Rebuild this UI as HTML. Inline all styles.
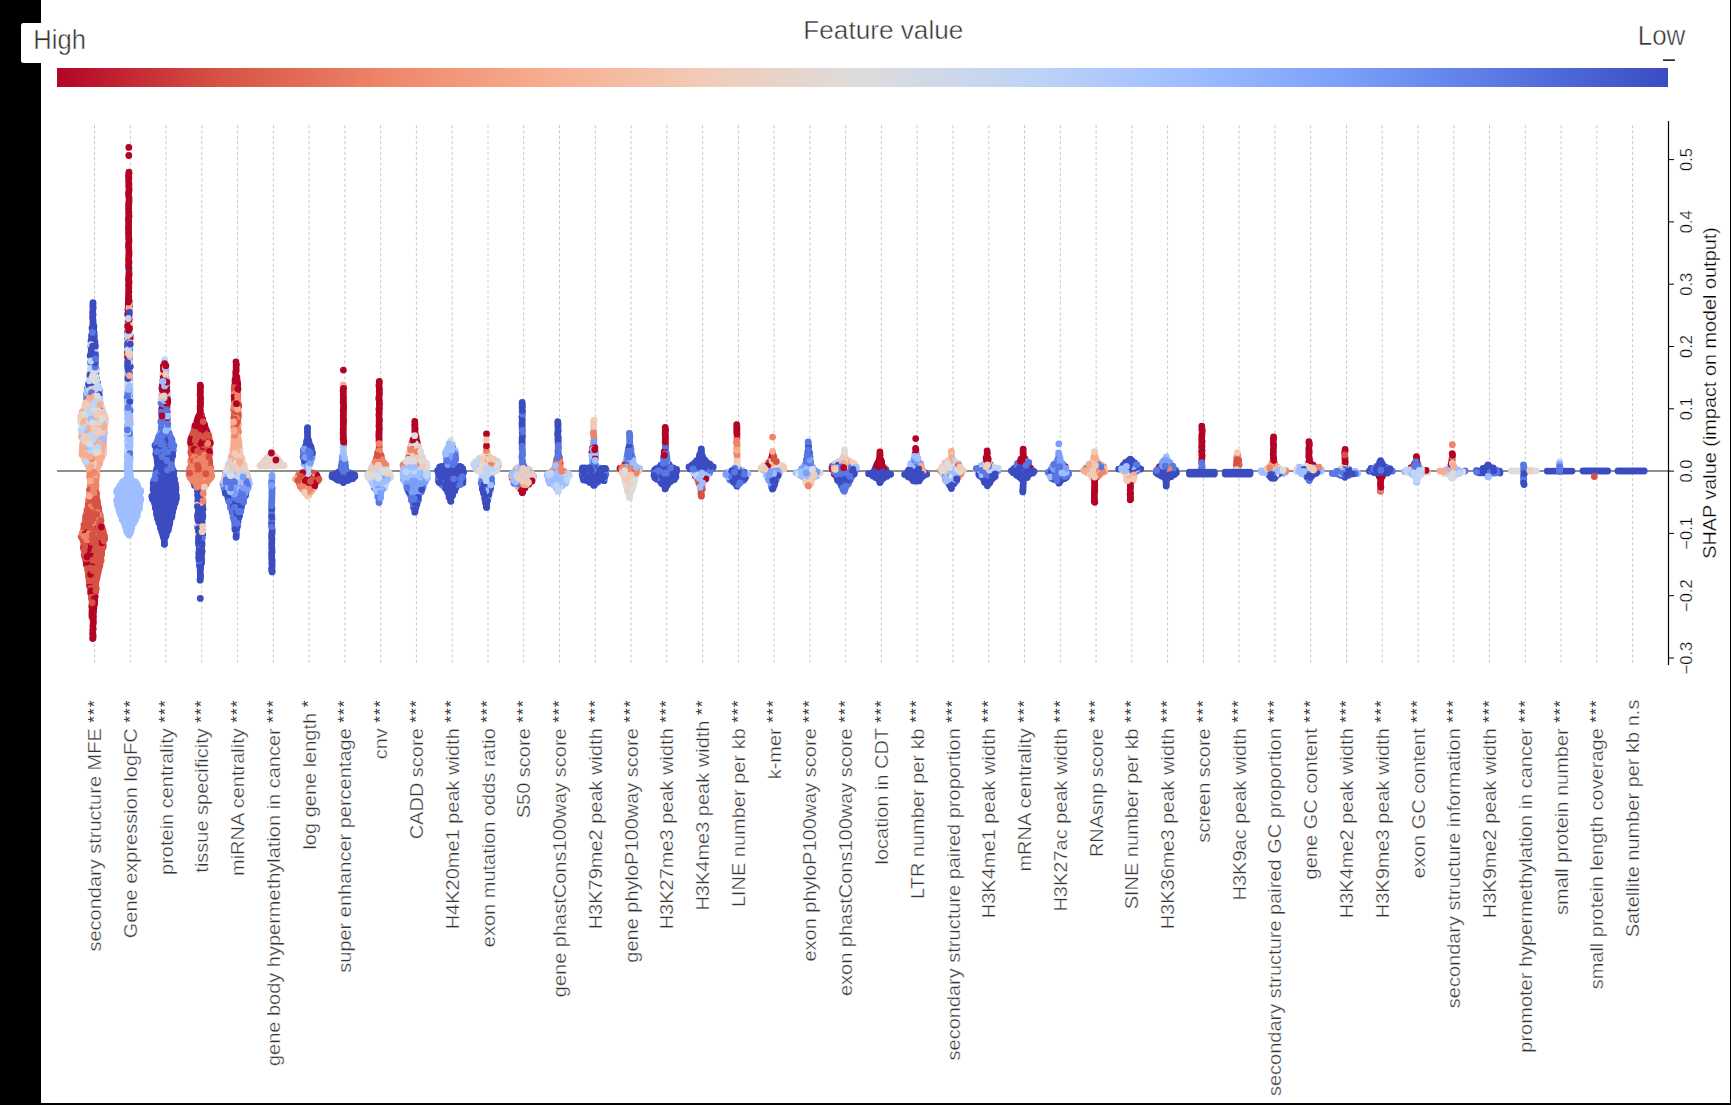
<!DOCTYPE html><html><head><meta charset="utf-8"><style>html,body{margin:0;padding:0;background:#fff;overflow:hidden}svg{display:block}text{font-family:"Liberation Sans",sans-serif}</style></head><body><svg width="1731" height="1105" viewBox="0 0 1731 1105"><defs><linearGradient id="cb" x1="0" x2="1" y1="0" y2="0"><stop offset="0.0" stop-color="#b40426"/><stop offset="0.1" stop-color="#d65244"/><stop offset="0.2" stop-color="#ee8468"/><stop offset="0.3" stop-color="#f7ac8e"/><stop offset="0.4" stop-color="#f2cbb7"/><stop offset="0.5" stop-color="#dddcdc"/><stop offset="0.6" stop-color="#c0d4f5"/><stop offset="0.7" stop-color="#9ebeff"/><stop offset="0.8" stop-color="#7b9ff9"/><stop offset="0.9" stop-color="#5977e3"/><stop offset="1.0" stop-color="#3b4cc0"/></linearGradient></defs><rect x="0" y="0" width="1731" height="1105" fill="#fff"/><rect x="0" y="0" width="41" height="1105" fill="#000"/><rect x="0" y="1103" width="1731" height="2" fill="#000"/><rect x="1730" y="0" width="1" height="1105" fill="#000"/><rect x="21" y="23" width="60" height="40" rx="2.5" fill="#fff"/><text transform="translate(33.3,49) scale(0.976,1.055)" font-size="26.2" fill="#333" stroke="#fff" stroke-width="0.45">High</text><text transform="translate(883.3,38.8) scale(1.027,1.02)" font-size="25.5" fill="#333" stroke="#fff" stroke-width="0.45" text-anchor="middle">Feature value</text><text transform="translate(1661.5,45.3) scale(0.98,1.05)" font-size="26.5" fill="#333" stroke="#fff" stroke-width="0.45" text-anchor="middle">Low</text><rect x="1663" y="59.4" width="12" height="1.5" fill="#111"/><rect x="57" y="68" width="1611" height="19" fill="url(#cb)"/><path d="M94.5 125V665M130.3 125V665M166.0 125V665M201.8 125V665M237.6 125V665M273.4 125V665M309.1 125V665M344.9 125V665M380.7 125V665M416.4 125V665M452.2 125V665M488.0 125V665M523.7 125V665M559.5 125V665M595.3 125V665M631.1 125V665M666.8 125V665M702.6 125V665M738.4 125V665M774.1 125V665M809.9 125V665M845.7 125V665M881.4 125V665M917.2 125V665M953.0 125V665M988.8 125V665M1024.5 125V665M1060.3 125V665M1096.1 125V665M1131.8 125V665M1167.6 125V665M1203.4 125V665M1239.1 125V665M1274.9 125V665M1310.7 125V665M1346.5 125V665M1382.2 125V665M1418.0 125V665M1453.8 125V665M1489.5 125V665M1525.3 125V665M1561.1 125V665M1596.8 125V665M1632.6 125V665" stroke="#c8c8c8" stroke-width="1" stroke-dasharray="2.9 2.45" fill="none"/><path d="M57 471H1668" stroke="#8f8f8f" stroke-width="2"/><g fill="none" stroke-linecap="round" stroke-width="6.8"><path stroke="#7b9ff9" d="M247.6 477.7h0M228.8 479.4h0M248.3 487.4h0M235.3 489.8h0M232.9 491.1h0M307.8 452.5h0M422.9 483.9h0M419.5 486.9h0M423.1 487.8h0M412.3 489.1h0M626.4 461.0h0M803.6 467.5h0M813.2 473.8h0M984.1 464.5h0M983.3 466.5h0M1164.0 460.6h0M1167.9 462.2h0"/><path stroke="#e6d3ca" d="M266.9 458.4h0M278.3 462.4h0M261.6 464.3h0M276.3 465.5h0"/><path stroke="#dddcdc" d="M92.1 408.3h0M89.1 414.4h0M99.3 438.7h0M83.2 443.1h0M94.6 452.4h0M101.0 452.5h0M96.0 464.5h0M373.7 471.8h0M370.1 477.9h0M415.1 459.2h0M629.7 477.3h0M624.6 478.8h0M737.6 466.6h0M742.2 469.8h0M746.0 472.3h0M804.9 477.6h0M806.9 477.5h0M1301.5 468.0h0M1427.6 472.6h0"/><path stroke="#c0d4f5" d="M90.2 370.1h0M93.2 372.5h0M95.3 382.8h0M96.1 386.0h0M94.7 390.2h0M96.5 398.1h0M90.8 402.2h0M100.7 406.5h0M93.9 408.0h0M97.4 424.2h0M237.7 467.7h0M239.6 473.8h0M229.4 477.4h0M235.7 479.1h0M309.1 460.5h0M304.7 465.2h0M384.6 471.5h0M369.3 472.8h0M372.7 477.6h0M378.6 486.8h0M424.4 471.9h0M567.1 475.5h0M558.9 481.0h0M561.0 482.0h0M558.2 489.7h0M695.9 472.3h0M705.9 474.5h0M958.4 463.3h0M947.7 475.3h0M1301.2 471.3h0M1417.8 474.6h0"/><path stroke="#b40426" d="M93.8 534.4h0M96.2 538.8h0M97.3 542.6h0M84.6 556.3h0M90.5 564.9h0M92.3 580.0h0M89.5 585.0h0M94.7 595.0h0M94.5 600.5h0M93.2 620.6h0M93.2 629.0h0M200.1 406.7h0M201.5 415.5h0M197.7 418.6h0M201.2 421.0h0M199.3 430.8h0M193.8 432.7h0M236.2 370.1h0M235.1 382.1h0M237.7 383.1h0M236.6 399.7h0M236.2 405.4h0M379.0 431.6h0M379.1 438.8h0M592.9 457.9h0M736.8 432.1h0M838.8 473.1h0M879.9 452.0h0M880.8 459.7h0M877.5 463.5h0M882.5 466.1h0M987.1 450.8h0M987.3 452.9h0M990.4 464.6h0M1094.6 486.8h0M1094.8 490.7h0M1094.4 494.6h0M1201.7 447.6h0M1201.6 451.6h0M1201.9 454.6h0M1308.9 441.6h0M1345.0 451.5h0"/><path stroke="#f7ac8e" d="M100.6 416.2h0M102.3 416.3h0M83.1 418.8h0M105.3 418.4h0M96.0 448.3h0M99.0 448.2h0M82.6 450.0h0M85.2 460.3h0M98.6 464.6h0M202.3 481.1h0M236.3 419.4h0M238.4 424.0h0M234.0 430.2h0M239.7 449.6h0M302.9 477.4h0M302.0 488.9h0M382.3 465.9h0M520.4 484.4h0M806.4 482.9h0M1097.7 471.5h0M1092.3 472.8h0M1101.4 473.3h0M1133.8 472.9h0M1277.1 466.9h0"/><path stroke="#9ebeff" d="M93.2 400.9h0M86.2 416.2h0M81.1 420.5h0M82.7 435.1h0M98.7 440.1h0M167.1 392.1h0M167.3 430.4h0M241.4 472.1h0M379.1 481.2h0M384.7 485.0h0M421.5 468.9h0M447.8 448.1h0M553.3 473.3h0M555.8 473.4h0M564.0 483.2h0M639.6 468.7h0M627.3 471.2h0M637.0 470.9h0M700.1 476.4h0M701.2 479.1h0M808.5 471.9h0M816.6 475.9h0M949.2 481.1h0M982.1 468.9h0M1166.3 458.8h0M1278.4 472.0h0M1309.9 465.0h0M1299.2 467.1h0M1339.4 473.6h0"/><path stroke="#f2cbb7" d="M90.0 378.7h0M96.1 390.4h0M90.0 406.6h0M84.9 428.4h0M87.0 448.4h0M92.1 449.9h0M103.6 454.0h0M89.4 459.0h0M232.8 451.3h0M237.4 461.9h0M225.5 475.9h0M521.5 472.9h0M624.7 468.5h0M634.4 472.4h0M633.9 482.3h0M629.7 495.0h0M736.8 464.8h0M843.3 457.2h0M849.7 461.2h0M848.9 463.6h0M952.5 460.9h0M961.7 469.3h0M959.4 475.3h0M1085.0 469.1h0M1090.2 473.3h0M1130.7 480.8h0M1263.6 472.7h0M1304.9 468.2h0M1345.1 465.9h0"/><path stroke="#3b4cc0" d="M92.8 318.2h0M93.1 324.4h0M91.0 341.0h0M94.6 340.9h0M93.1 350.3h0M97.7 383.1h0M90.5 386.8h0M87.3 388.9h0M88.1 402.5h0M172.0 440.2h0M163.4 448.3h0M158.0 450.1h0M164.5 461.8h0M162.2 463.7h0M173.7 471.6h0M170.3 474.6h0M164.4 478.1h0M169.3 482.6h0M163.4 483.9h0M172.4 483.8h0M161.5 485.6h0M168.3 486.3h0M173.1 486.3h0M173.4 487.6h0M175.9 487.6h0M162.8 490.3h0M168.8 490.2h0M155.9 492.4h0M173.6 492.1h0M155.0 496.3h0M161.8 496.2h0M171.4 496.0h0M159.2 504.4h0M168.3 504.1h0M169.9 514.5h0M157.3 515.8h0M172.0 516.1h0M162.6 517.6h0M159.7 523.9h0M167.0 523.7h0M160.7 526.3h0M162.0 526.0h0M163.2 536.4h0M203.0 489.0h0M201.6 533.7h0M198.5 543.2h0M199.4 547.2h0M234.3 509.6h0M236.5 529.0h0M306.7 449.1h0M414.8 509.3h0M447.8 473.1h0M455.9 475.0h0M462.0 474.3h0M450.9 476.9h0M460.6 476.6h0M444.4 478.1h0M438.4 480.9h0M448.6 480.2h0M451.1 482.4h0M457.2 483.2h0M447.6 487.1h0M447.9 492.5h0M522.1 404.3h0M522.0 422.9h0M522.1 442.7h0M559.3 457.3h0M593.1 477.6h0M601.8 478.0h0M673.2 467.9h0M659.3 469.4h0M668.6 470.9h0M663.9 485.0h0M701.4 452.8h0M709.9 464.2h0M694.4 469.2h0M732.3 480.2h0M737.0 486.2h0M807.9 451.3h0M837.1 469.1h0M837.1 478.0h0M841.6 477.8h0M875.1 476.2h0M885.2 476.1h0M945.7 479.5h0M951.7 487.1h0M995.2 476.4h0M984.3 478.2h0M1017.9 467.4h0M1013.9 468.7h0M1018.6 473.0h0M1023.2 472.4h0M1027.2 477.5h0M1024.1 478.9h0M1139.5 468.8h0M1160.3 473.0h0M1169.3 472.2h0M1158.1 474.2h0M1165.2 477.9h0M1166.2 482.6h0M1307.2 477.3h0M1344.9 477.3h0M1380.6 460.7h0M1379.8 462.1h0M1374.2 470.5h0M1376.0 470.2h0M1489.3 466.4h0"/><path stroke="#d65244" d="M94.6 500.1h0M88.8 503.1h0M94.5 512.4h0M90.5 518.1h0M97.9 518.0h0M86.8 524.0h0M88.8 524.0h0M93.8 526.3h0M88.2 528.3h0M94.2 537.1h0M91.4 552.1h0M96.3 562.9h0M95.6 564.9h0M90.1 565.9h0M95.3 570.2h0M93.1 596.8h0M201.0 429.8h0M206.1 429.7h0M193.9 430.9h0M207.6 433.7h0M205.4 451.7h0M201.7 455.6h0M199.3 457.6h0M201.0 457.0h0M205.1 464.6h0M314.1 479.4h0M303.0 485.2h0M377.6 452.9h0M411.6 461.9h0"/><path stroke="#5977e3" d="M95.1 364.7h0M92.8 366.7h0M95.4 383.9h0M99.4 390.5h0M88.8 394.1h0M99.3 406.1h0M161.0 402.6h0M160.8 421.7h0M166.8 434.4h0M169.2 433.5h0M168.8 445.4h0M158.6 451.9h0M166.1 452.3h0M164.0 459.8h0M169.0 464.1h0M161.9 467.5h0M158.3 470.2h0M171.0 471.9h0M153.9 480.1h0M201.8 558.6h0M237.9 485.2h0M230.3 493.4h0M227.5 495.2h0M235.1 495.4h0M236.6 497.8h0M233.5 515.8h0M234.8 523.5h0M303.6 455.5h0M457.8 468.2h0M440.7 480.3h0M453.4 480.1h0M522.0 426.0h0M522.5 452.8h0M521.9 455.8h0M586.2 469.7h0M603.1 474.8h0M582.9 477.8h0M629.2 453.1h0M627.0 456.6h0M660.1 477.2h0M702.9 474.9h0M727.6 472.7h0M746.3 473.9h0M729.5 478.2h0M849.9 465.7h0M854.2 472.0h0M841.9 475.2h0M843.8 476.0h0M840.0 477.9h0M979.8 476.1h0M1135.0 465.5h0M1166.3 468.0h0M1392.4 471.2h0M1418.0 464.1h0"/><path stroke="#ee8468" d="M90.6 460.7h0M96.3 472.9h0M92.5 477.1h0M96.2 478.9h0M96.2 480.1h0M95.7 482.1h0M92.5 490.3h0M92.3 492.9h0M94.5 496.2h0M91.4 540.5h0M193.6 441.0h0M209.3 440.9h0M200.0 447.5h0M207.8 446.6h0M202.8 459.0h0M209.7 464.9h0M201.0 469.2h0M203.5 472.9h0M196.4 475.4h0M198.7 475.6h0M203.7 475.7h0M192.5 476.8h0M191.6 479.3h0M201.2 479.7h0M198.6 483.4h0M238.1 411.4h0M236.4 415.2h0M237.8 427.7h0M300.1 479.1h0M378.7 457.4h0M415.9 463.0h0M953.7 466.8h0M958.4 477.2h0M1103.7 467.0h0M1090.7 471.1h0M1099.3 474.9h0M1236.6 457.8h0"/><path stroke="#f7ac8e" d="M88.9 396.8h0M98.3 402.8h0M93.5 417.0h0M97.3 418.7h0M95.4 422.9h0M91.9 426.5h0M87.7 428.9h0M87.9 431.0h0M94.7 442.4h0M98.3 442.1h0M98.4 451.1h0M99.6 456.2h0M92.9 460.3h0M95.3 460.0h0M87.5 464.3h0M93.5 464.6h0M89.4 468.5h0M90.0 477.9h0M94.0 498.5h0M234.7 433.5h0M237.6 433.6h0M237.5 436.0h0M235.9 437.4h0M237.6 437.9h0M233.8 443.3h0M237.7 453.6h0M239.2 467.9h0M244.7 470.0h0M225.4 473.4h0M381.4 463.9h0M737.1 458.6h0M808.5 483.6h0M1095.4 462.7h0M1098.0 462.7h0M1101.1 464.9h0M1091.3 467.1h0M1096.0 467.7h0M1096.5 469.4h0M1275.1 464.5h0"/><path stroke="#e6d3ca" d="M272.1 459.0h0M274.1 460.7h0M273.2 462.2h0M272.8 464.2h0M275.2 464.5h0M274.4 466.0h0"/><path stroke="#b40426" d="M91.9 533.0h0M103.3 532.8h0M101.3 540.5h0M98.8 554.2h0M89.1 564.5h0M95.3 572.5h0M89.8 578.0h0M96.1 588.4h0M92.0 604.5h0M165.4 372.3h0M164.6 393.9h0M167.2 411.8h0M164.6 416.3h0M200.1 394.7h0M200.4 410.9h0M197.5 425.8h0M196.9 430.8h0M206.9 431.6h0M202.4 432.8h0M191.7 437.0h0M197.4 436.6h0M195.2 443.0h0M196.6 445.4h0M236.0 361.9h0M236.3 364.1h0M234.7 385.8h0M236.3 397.0h0M234.7 401.5h0M238.1 403.9h0M316.7 475.2h0M378.9 385.5h0M379.4 389.8h0M379.4 393.6h0M379.0 440.9h0M415.1 429.0h0M452.8 448.4h0M522.7 490.8h0M665.4 443.8h0M703.7 479.1h0M736.9 430.2h0M880.0 454.5h0M879.7 458.0h0M874.7 470.0h0M1024.3 461.2h0M1130.1 494.6h0M1202.0 434.5h0M1273.6 437.0h0M1380.5 483.1h0M1416.4 456.6h0M1418.8 468.8h0"/><path stroke="#d65244" d="M94.4 508.4h0M86.2 514.7h0M88.7 516.3h0M99.0 521.1h0M100.4 522.3h0M86.5 525.9h0M101.6 532.0h0M82.4 534.0h0M98.7 538.5h0M83.8 545.1h0M102.5 545.0h0M97.5 546.9h0M102.7 548.2h0M91.7 562.5h0M94.8 562.2h0M95.9 566.7h0M93.3 572.3h0M97.2 577.1h0M93.3 592.5h0M201.4 435.0h0M208.9 437.7h0M191.4 440.9h0M202.4 440.7h0M197.6 447.5h0M203.7 449.1h0M209.0 449.3h0M191.0 452.7h0M193.7 453.0h0M314.3 477.4h0M312.3 485.0h0M381.2 455.9h0M405.7 467.9h0M700.6 483.0h0M702.3 489.1h0M1344.9 459.5h0"/><path stroke="#5977e3" d="M90.6 354.6h0M93.2 357.1h0M93.3 374.6h0M86.5 394.4h0M164.6 411.8h0M164.1 414.0h0M162.9 430.0h0M160.6 438.3h0M160.4 453.5h0M163.0 454.4h0M159.9 462.1h0M160.3 463.5h0M166.4 464.5h0M169.9 468.0h0M170.8 469.7h0M156.5 471.5h0M165.6 474.2h0M242.3 483.7h0M241.2 487.1h0M245.8 493.4h0M374.2 487.7h0M379.0 502.6h0M409.8 481.8h0M417.8 481.9h0M416.4 491.3h0M455.7 465.1h0M457.1 466.2h0M456.1 478.7h0M606.2 470.0h0M593.0 472.7h0M629.7 438.5h0M629.8 443.3h0M665.8 452.0h0M667.6 465.5h0M657.7 467.9h0M659.9 467.0h0M671.6 475.6h0M664.9 477.0h0M666.0 479.9h0M712.5 468.7h0M705.2 470.9h0M704.1 472.7h0M706.4 476.5h0M808.3 445.2h0M809.7 454.9h0M845.4 465.9h0M841.8 481.8h0M989.6 467.8h0M990.8 471.8h0M1127.6 463.1h0M1171.3 468.0h0M1202.2 466.5h0M1202.1 470.0h0M1311.8 473.0h0M1349.0 469.4h0M1416.9 462.5h0M1481.2 473.0h0"/><path stroke="#7b9ff9" d="M222.9 483.5h0M239.3 483.8h0M307.5 455.6h0M312.3 454.8h0M312.2 457.0h0M377.8 497.1h0M404.0 475.7h0M422.7 481.8h0M446.5 464.0h0M631.4 462.5h0M627.7 466.6h0M663.9 461.0h0M803.2 473.4h0"/><path stroke="#ee8468" d="M89.8 476.7h0M90.3 488.6h0M95.8 488.9h0M86.7 513.0h0M95.9 522.5h0M204.0 453.7h0M207.2 460.8h0M202.6 467.3h0M210.3 471.6h0M191.3 472.7h0M208.7 472.7h0M211.8 475.8h0M198.6 478.6h0M206.2 478.9h0M238.7 415.0h0M236.4 431.4h0M306.8 482.7h0M410.8 465.0h0M415.2 465.5h0M737.0 436.8h0M944.0 467.1h0M1238.8 465.6h0M1380.4 489.0h0"/><path stroke="#c0d4f5" d="M89.5 376.9h0M94.4 394.9h0M94.3 398.6h0M96.9 408.4h0M82.3 426.5h0M241.9 467.5h0M244.0 475.4h0M308.4 469.4h0M375.3 478.0h0M407.0 473.6h0M519.4 474.8h0M561.1 469.6h0M593.8 430.1h0M729.3 472.3h0M851.8 463.3h0M986.0 474.4h0M1276.3 468.9h0M1415.9 476.6h0"/><path stroke="#3b4cc0" d="M92.8 306.5h0M92.0 328.0h0M93.7 328.9h0M91.2 352.6h0M93.5 352.1h0M96.0 369.0h0M96.3 378.3h0M156.9 442.3h0M166.9 445.7h0M158.6 447.7h0M166.1 447.7h0M162.7 462.0h0M168.2 472.5h0M157.9 474.2h0M163.4 473.5h0M168.3 473.6h0M170.4 479.9h0M162.6 481.6h0M171.7 481.8h0M165.7 489.6h0M168.0 491.5h0M158.6 493.6h0M166.0 493.9h0M172.9 494.5h0M175.3 494.4h0M154.6 498.2h0M161.9 497.9h0M172.8 500.4h0M156.3 502.3h0M156.6 504.5h0M165.5 503.6h0M155.5 506.4h0M160.2 505.7h0M173.5 506.3h0M168.6 509.8h0M161.6 513.9h0M164.5 514.0h0M167.6 513.7h0M162.6 515.8h0M169.9 520.0h0M160.4 528.0h0M168.7 527.5h0M166.0 536.0h0M163.9 538.5h0M164.3 542.2h0M164.4 544.3h0M200.8 501.3h0M197.5 515.7h0M200.9 518.7h0M200.3 523.3h0M200.7 527.6h0M200.3 535.2h0M198.9 545.3h0M199.1 548.8h0M227.7 494.0h0M245.5 495.6h0M238.6 497.7h0M241.2 497.8h0M228.8 500.2h0M239.6 508.1h0M232.1 510.1h0M232.2 512.2h0M234.9 521.6h0M307.6 435.6h0M307.7 439.4h0M420.6 485.5h0M412.8 487.4h0M459.5 466.3h0M451.6 470.1h0M458.3 472.5h0M448.2 477.0h0M455.2 477.0h0M439.9 478.9h0M449.9 479.0h0M460.5 480.6h0M449.4 490.9h0M451.7 490.1h0M449.0 497.2h0M450.6 501.1h0M557.9 427.1h0M585.1 467.9h0M587.4 472.7h0M586.5 474.2h0M596.6 473.9h0M590.7 476.3h0M597.5 476.4h0M601.7 475.8h0M585.4 477.7h0M583.5 479.9h0M588.3 479.6h0M595.8 480.7h0M628.5 449.2h0M669.3 464.9h0M656.2 468.9h0M659.8 473.4h0M658.7 476.0h0M675.9 476.9h0M670.7 481.5h0M703.3 458.5h0M705.2 460.3h0M692.1 465.0h0M705.5 466.2h0M701.7 468.2h0M736.9 472.7h0M745.8 476.8h0M735.3 482.8h0M735.7 483.9h0M808.1 453.2h0M851.0 473.7h0M844.2 480.1h0M846.1 480.0h0M849.1 480.1h0M877.9 470.3h0M885.8 469.4h0M868.6 473.7h0M883.1 473.9h0M883.6 478.2h0M953.9 471.5h0M993.7 472.3h0M983.9 473.7h0M1016.5 466.6h0M1021.7 468.4h0M1140.8 469.1h0M1175.6 470.3h0M1167.6 472.8h0M1174.5 474.6h0M1171.1 476.7h0M1165.9 480.8h0M1275.5 476.7h0M1309.3 469.1h0M1316.4 473.3h0M1380.4 467.2h0M1487.9 469.0h0M1484.7 470.3h0M1587.9 471.0h0M1628.5 471.0h0"/><path stroke="#dddcdc" d="M97.3 384.9h0M87.4 426.4h0M85.1 438.8h0M87.9 444.4h0M103.1 445.0h0M237.0 449.4h0M236.2 458.2h0M231.7 469.5h0M386.0 475.5h0M370.4 479.8h0M385.5 479.2h0M451.0 442.7h0M625.9 484.4h0M628.3 492.5h0M629.6 497.4h0M738.8 467.8h0M818.3 473.3h0M808.2 481.0h0M950.1 469.3h0M949.9 477.5h0M1238.7 467.8h0M1315.9 469.3h0M1425.6 472.0h0M1521.3 470.9h0M1528.8 470.9h0"/><path stroke="#9ebeff" d="M87.2 397.0h0M87.4 414.6h0M85.7 430.0h0M103.4 448.1h0M163.5 372.5h0M235.2 476.1h0M248.8 481.8h0M249.4 483.6h0M242.8 485.5h0M237.8 489.9h0M370.4 475.4h0M388.1 476.0h0M371.9 481.0h0M412.0 473.5h0M416.9 472.8h0M412.8 476.9h0M426.4 479.0h0M450.7 448.8h0M448.4 454.4h0M455.9 456.4h0M527.9 478.5h0M528.6 479.9h0M515.5 484.3h0M558.3 467.0h0M557.1 469.7h0M547.1 475.2h0M553.7 479.5h0M564.6 479.8h0M595.8 454.3h0M625.0 462.9h0M627.1 464.6h0M694.8 474.4h0M704.3 477.2h0M807.2 465.0h0M812.7 467.1h0M952.0 475.1h0M981.2 465.8h0M987.6 468.8h0M1016.8 469.1h0M1029.9 469.1h0M1126.4 469.2h0M1352.2 471.9h0M1489.4 474.7h0"/><path stroke="#f2cbb7" d="M81.1 418.9h0M104.9 420.0h0M103.8 450.2h0M164.8 418.0h0M201.6 540.9h0M235.5 451.2h0M234.9 456.2h0M230.6 461.5h0M230.0 470.0h0M238.4 477.0h0M308.8 495.2h0M307.7 496.0h0M379.8 460.9h0M378.6 462.8h0M380.6 469.4h0M409.8 458.9h0M517.0 468.0h0M517.0 478.8h0M620.8 470.5h0M628.8 475.3h0M631.2 482.4h0M631.1 484.5h0M703.8 480.3h0M810.8 483.8h0M844.6 459.4h0M953.2 462.7h0M942.0 467.1h0M954.6 468.8h0M1126.6 476.7h0M1132.9 480.7h0M1345.7 467.2h0"/><path stroke="#9ebeff" d="M91.3 424.3h0M93.8 435.1h0M166.8 406.4h0M167.9 422.3h0M159.6 434.2h0M248.5 480.0h0M232.7 490.1h0M382.6 485.2h0M408.7 469.3h0M424.7 473.4h0M417.7 475.3h0M410.3 479.9h0M526.0 468.6h0M515.7 469.9h0M526.1 472.1h0M533.7 476.3h0M551.0 478.0h0M553.3 477.0h0M552.3 481.4h0M554.8 483.9h0M565.8 483.0h0M553.7 484.9h0M562.1 485.8h0M592.1 454.2h0M634.4 465.2h0M692.5 470.9h0M697.5 470.6h0M804.5 469.2h0M796.1 472.8h0M943.9 475.2h0M992.3 468.6h0M994.4 470.5h0M1023.9 468.6h0M1167.7 460.2h0M1280.1 472.2h0M1318.6 471.8h0M1321.1 471.2h0M1486.6 474.8h0"/><path stroke="#3b4cc0" d="M92.7 313.1h0M93.9 326.3h0M95.0 352.4h0M91.0 364.0h0M97.1 394.9h0M155.0 445.5h0M168.0 448.0h0M163.3 450.3h0M170.6 452.3h0M160.1 466.4h0M157.0 468.5h0M159.9 468.5h0M165.5 469.4h0M158.1 475.6h0M163.3 480.1h0M170.4 483.9h0M156.6 486.5h0M165.4 488.2h0M153.2 489.7h0M153.8 492.0h0M175.4 492.1h0M159.4 496.0h0M171.7 498.1h0M175.9 499.8h0M166.3 502.0h0M175.0 503.6h0M159.0 512.1h0M159.1 520.5h0M161.7 531.6h0M166.9 531.7h0M202.8 502.7h0M202.7 534.6h0M202.1 537.4h0M200.2 570.7h0M242.2 495.9h0M236.4 502.2h0M230.4 503.4h0M237.1 504.1h0M236.3 533.9h0M308.1 447.1h0M307.3 456.5h0M449.7 467.0h0M455.3 469.0h0M445.1 470.5h0M441.2 474.7h0M443.5 474.9h0M444.2 484.6h0M457.9 484.4h0M454.6 486.8h0M450.9 494.2h0M522.0 417.9h0M522.2 432.1h0M522.4 434.9h0M522.4 460.8h0M558.0 423.7h0M557.7 433.7h0M557.9 439.5h0M584.6 471.9h0M582.1 474.3h0M582.6 476.0h0M594.5 476.6h0M593.9 485.4h0M667.9 463.5h0M673.8 471.2h0M657.0 473.9h0M673.2 477.3h0M659.6 478.8h0M664.3 479.4h0M669.3 479.7h0M701.2 450.2h0M700.6 458.2h0M700.1 462.6h0M699.6 468.9h0M731.6 472.6h0M739.0 474.1h0M844.3 469.5h0M849.1 474.2h0M843.6 481.3h0M840.8 483.2h0M886.6 471.7h0M885.8 474.1h0M951.0 483.4h0M978.8 472.2h0M986.8 480.7h0M1024.7 471.2h0M1029.3 471.2h0M1021.3 472.7h0M1029.0 474.5h0M1122.4 466.9h0M1170.6 470.7h0M1162.7 471.9h0M1164.9 472.5h0M1160.4 474.9h0M1269.0 474.9h0M1306.0 473.4h0M1348.6 475.2h0M1369.4 471.2h0M1376.7 473.1h0M1476.5 470.6h0M1488.9 470.2h0M1499.5 471.1h0M1478.9 472.8h0M1499.9 473.0h0M1623.3 471.0h0M1625.9 471.0h0"/><path stroke="#d65244" d="M91.2 498.5h0M93.3 507.1h0M96.7 508.1h0M100.3 516.0h0M94.7 521.1h0M92.0 522.8h0M97.0 526.9h0M83.9 530.5h0M97.2 530.0h0M98.7 532.7h0M87.6 534.7h0M98.8 533.9h0M83.3 546.9h0M91.0 546.0h0M92.9 548.2h0M98.0 558.5h0M89.4 562.5h0M98.9 568.7h0M92.5 574.3h0M91.9 578.2h0M94.6 584.0h0M91.3 594.2h0M199.9 433.7h0M194.4 436.7h0M201.2 437.2h0M193.7 439.3h0M197.6 440.6h0M206.8 441.4h0M200.6 450.6h0M197.2 454.8h0M199.4 454.8h0M206.6 454.9h0M208.7 454.6h0M208.1 467.1h0M238.2 418.0h0M305.0 478.6h0M316.7 479.2h0M312.5 481.1h0M381.1 456.8h0M376.3 459.3h0M415.7 461.6h0M407.0 463.0h0M737.1 438.1h0"/><path stroke="#7b9ff9" d="M226.1 491.5h0M230.3 495.1h0M312.0 450.9h0M310.7 461.3h0M377.0 487.6h0M377.8 493.2h0M411.3 485.1h0M592.6 459.7h0M593.6 461.9h0M805.4 467.6h0M800.4 475.2h0M997.9 470.9h0"/><path stroke="#5977e3" d="M92.6 368.4h0M162.3 406.2h0M167.2 435.9h0M161.1 448.4h0M173.3 450.0h0M160.2 457.8h0M157.7 463.5h0M172.7 475.7h0M245.5 485.2h0M223.8 487.3h0M226.8 489.6h0M241.4 508.1h0M235.0 515.1h0M235.5 519.2h0M306.0 452.9h0M378.1 495.7h0M379.1 499.1h0M379.1 501.1h0M406.9 481.2h0M413.3 483.3h0M416.5 485.6h0M446.4 474.1h0M595.2 464.1h0M582.4 472.1h0M595.3 472.1h0M588.6 473.7h0M590.6 478.1h0M600.2 478.7h0M629.4 433.5h0M665.2 449.5h0M666.3 453.4h0M666.9 457.4h0M662.7 467.3h0M662.1 478.8h0M706.8 468.3h0M808.2 443.4h0M849.2 469.4h0M839.0 475.1h0M839.3 482.1h0M842.8 483.5h0M844.8 490.0h0M844.2 491.2h0M996.6 468.3h0M1125.8 464.7h0M1132.6 464.8h0M1158.4 468.3h0M1168.8 470.2h0M1172.4 472.7h0M1313.8 471.0h0M1346.0 473.6h0M1344.2 475.1h0M1376.6 466.3h0M1371.2 470.3h0M1487.5 472.4h0"/><path stroke="#b40426" d="M90.4 528.3h0M85.4 540.8h0M94.8 553.0h0M97.1 552.1h0M86.3 564.4h0M95.1 592.8h0M93.0 618.3h0M163.4 365.8h0M199.1 420.9h0M200.1 425.2h0M194.9 426.8h0M199.0 437.8h0M206.4 444.7h0M235.9 376.0h0M235.0 380.2h0M235.2 383.7h0M238.5 405.8h0M310.1 477.3h0M310.7 483.2h0M310.2 487.1h0M379.3 381.4h0M379.4 404.0h0M379.0 425.6h0M416.0 445.0h0M413.5 453.4h0M521.1 486.5h0M523.4 486.8h0M593.8 446.6h0M591.9 452.1h0M631.9 470.5h0M633.6 471.0h0M665.2 427.4h0M665.5 446.8h0M664.1 452.0h0M695.4 476.1h0M850.6 469.7h0M847.4 471.6h0M879.5 464.0h0M881.3 464.0h0M1021.0 459.1h0M1025.0 458.9h0M1028.7 465.1h0M1094.6 488.9h0M1094.4 499.6h0M1202.0 446.6h0M1273.6 446.2h0M1273.4 448.2h0M1308.9 453.9h0M1309.1 461.1h0M1308.4 463.2h0M1310.3 463.0h0M1308.5 465.8h0M1380.8 480.2h0M1380.5 485.0h0"/><path stroke="#e6d3ca" d="M273.3 456.6h0M268.8 457.9h0M274.7 458.8h0M263.8 462.1h0M268.4 462.5h0M275.8 462.4h0M266.7 464.0h0M268.4 465.1h0M277.6 464.5h0"/><path stroke="#f2cbb7" d="M96.8 392.0h0M99.3 408.0h0M83.5 411.1h0M95.3 416.9h0M104.7 416.1h0M100.5 418.7h0M102.2 424.9h0M90.7 430.7h0M93.4 430.4h0M86.7 442.0h0M96.3 450.4h0M84.8 451.9h0M103.7 453.1h0M87.2 458.2h0M97.4 462.9h0M202.5 495.1h0M232.7 454.1h0M229.2 472.2h0M233.9 471.4h0M233.2 473.3h0M223.7 481.3h0M306.8 474.9h0M311.1 475.6h0M411.5 455.0h0M415.5 455.1h0M422.3 466.9h0M425.6 469.7h0M527.7 468.6h0M529.7 469.9h0M514.5 473.8h0M630.2 493.2h0M846.5 459.3h0M944.7 463.0h0M947.0 467.2h0M942.1 472.7h0M986.4 462.5h0M1094.6 452.8h0M1085.9 467.6h0M1097.2 474.8h0M1092.2 477.6h0M1263.9 470.9h0M1316.4 467.5h0M1423.9 470.6h0"/><path stroke="#dddcdc" d="M85.4 403.9h0M102.0 408.0h0M85.5 439.9h0M93.6 444.2h0M380.7 473.1h0M385.0 473.3h0M368.1 477.2h0M372.2 479.6h0M414.5 450.8h0M408.1 461.8h0M631.8 473.1h0M626.4 475.3h0M634.9 479.3h0M625.9 482.8h0M629.4 489.3h0M1423.7 472.5h0"/><path stroke="#c0d4f5" d="M91.0 366.2h0M90.2 372.2h0M92.9 384.6h0M88.2 386.1h0M98.9 387.9h0M92.4 406.6h0M81.8 432.6h0M93.5 432.7h0M240.3 463.9h0M244.2 465.2h0M246.5 473.2h0M243.6 481.6h0M372.9 469.6h0M381.2 481.3h0M386.7 481.1h0M403.4 467.7h0M410.3 467.9h0M524.3 474.2h0M554.8 471.2h0M560.2 478.8h0M566.3 480.9h0M697.5 477.1h0M840.6 465.7h0"/><path stroke="#ee8468" d="M88.6 506.1h0M88.8 514.0h0M91.9 514.3h0M95.7 516.4h0M95.3 528.0h0M93.9 540.2h0M194.3 457.8h0M195.4 458.8h0M202.2 462.9h0M205.0 463.0h0M199.0 471.3h0M206.0 471.3h0M196.6 473.5h0M199.0 473.0h0M188.9 474.7h0M193.8 475.3h0M198.2 484.8h0M233.6 418.1h0M237.4 419.5h0M302.7 480.4h0M317.7 481.3h0M300.2 486.4h0M303.9 490.6h0M379.2 445.5h0M415.8 447.2h0M414.3 455.3h0M418.0 455.9h0M405.3 466.0h0M631.3 466.5h0M635.0 468.6h0M955.7 472.7h0M1273.0 460.4h0M1274.2 462.8h0"/><path stroke="#f7ac8e" d="M94.7 413.0h0M94.8 414.3h0M100.9 414.0h0M90.2 416.8h0M95.3 420.4h0M90.9 432.9h0M97.9 432.3h0M81.5 436.5h0M93.5 470.2h0M234.0 413.5h0M238.7 443.1h0M236.4 447.8h0M231.1 458.0h0M231.7 463.1h0M311.0 491.5h0M374.0 467.8h0M521.1 479.0h0M846.2 467.4h0M1100.1 471.0h0M1086.9 472.5h0"/><path stroke="#5977e3" d="M91.4 348.1h0M91.3 358.0h0M95.4 360.6h0M162.8 380.5h0M162.7 391.5h0M165.8 420.1h0M164.1 428.2h0M161.0 431.5h0M168.1 431.6h0M162.9 437.4h0M173.9 445.7h0M170.5 448.5h0M167.6 453.4h0M170.4 454.0h0M169.4 461.5h0M198.6 552.8h0M199.7 567.1h0M244.4 490.0h0M231.6 499.2h0M231.5 501.8h0M230.3 505.9h0M238.6 509.4h0M234.6 513.8h0M233.1 517.1h0M234.8 526.0h0M237.8 525.6h0M236.4 531.7h0M423.1 485.8h0M418.6 495.6h0M414.7 501.3h0M413.4 507.7h0M452.6 460.3h0M446.5 462.8h0M446.5 468.3h0M438.7 476.9h0M438.2 478.4h0M443.1 478.7h0M443.7 480.3h0M452.7 484.4h0M595.2 466.1h0M597.2 472.4h0M585.7 476.5h0M631.0 452.7h0M632.6 458.5h0M668.5 475.5h0M702.5 470.3h0M706.7 472.4h0M727.4 474.8h0M741.7 478.0h0M730.0 479.9h0M810.1 457.1h0M806.4 459.6h0M810.7 461.8h0M808.0 463.3h0M832.5 465.9h0M836.1 471.5h0M844.4 485.7h0M984.6 468.1h0M1025.6 460.6h0M1132.5 463.4h0M1168.2 464.1h0M1163.8 470.4h0M1165.5 470.4h0M1283.5 473.0h0M1309.4 472.0h0M1332.3 473.4h0M1383.5 467.2h0M1378.0 468.8h0M1385.7 471.1h0M1487.3 470.0h0"/><path stroke="#3b4cc0" d="M91.7 338.0h0M93.5 348.6h0M95.4 356.5h0M92.9 360.8h0M90.7 362.0h0M92.4 364.6h0M90.0 374.9h0M95.8 373.9h0M89.3 388.4h0M167.1 439.8h0M158.8 441.8h0M157.0 456.5h0M164.2 456.2h0M171.1 460.1h0M167.1 462.0h0M171.5 465.8h0M160.7 473.7h0M155.7 476.2h0M166.3 477.6h0M168.5 478.6h0M174.0 477.9h0M165.5 480.2h0M160.7 484.0h0M175.1 485.4h0M163.8 488.6h0M170.1 492.5h0M156.9 496.5h0M152.4 498.5h0M160.1 498.5h0M176.4 498.5h0M161.1 500.3h0M158.2 501.4h0M175.3 502.3h0M170.6 503.9h0M158.1 510.2h0M172.4 510.3h0M165.1 511.9h0M166.6 517.9h0M163.2 522.3h0M161.8 523.4h0M164.7 525.7h0M167.0 525.7h0M169.0 526.1h0M198.0 517.2h0M202.1 521.3h0M200.8 528.6h0M198.4 532.8h0M199.1 554.6h0M198.6 557.4h0M200.9 556.9h0M201.6 563.0h0M199.4 564.7h0M200.3 573.7h0M239.8 491.7h0M246.0 491.2h0M241.2 499.2h0M234.6 504.1h0M236.8 505.2h0M309.1 442.7h0M303.2 457.2h0M413.2 497.8h0M415.9 497.0h0M415.9 507.6h0M454.7 470.7h0M448.5 474.8h0M462.9 478.5h0M441.4 482.3h0M444.0 482.5h0M446.5 483.0h0M452.7 482.5h0M452.0 486.9h0M456.3 486.9h0M450.9 492.1h0M449.1 494.4h0M522.0 416.3h0M522.3 420.3h0M558.0 431.5h0M558.2 441.2h0M582.5 467.9h0M592.4 468.3h0M604.1 480.7h0M593.2 484.1h0M654.8 470.0h0M666.0 468.9h0M662.2 473.5h0M675.6 473.4h0M664.4 475.2h0M674.2 475.6h0M667.5 477.0h0M701.8 455.0h0M702.7 456.8h0M704.5 462.6h0M699.9 464.2h0M701.9 464.8h0M730.2 474.1h0M731.6 478.6h0M808.6 447.6h0M846.4 469.5h0M844.3 473.2h0M836.6 476.0h0M844.5 477.7h0M875.5 467.9h0M877.0 472.6h0M880.9 474.1h0M872.8 475.9h0M953.3 476.9h0M954.0 480.6h0M952.1 482.7h0M991.9 470.7h0M982.1 475.8h0M982.6 477.8h0M988.0 480.2h0M984.7 482.4h0M987.4 485.8h0M1018.8 471.1h0M1021.8 470.8h0M1016.6 475.2h0M1019.6 475.4h0M1022.8 480.7h0M1129.5 469.5h0M1173.1 471.1h0M1174.0 472.6h0M1164.6 473.9h0M1168.9 476.2h0M1278.4 474.2h0M1273.9 476.7h0M1313.8 473.7h0M1339.9 472.0h0M1349.0 473.3h0M1379.1 464.7h0M1385.2 468.4h0M1378.4 470.9h0M1382.8 471.2h0M1490.2 469.2h0M1592.9 471.0h0M1605.2 471.0h0M1607.7 471.0h0M1641.6 471.0h0"/><path stroke="#9ebeff" d="M83.5 420.7h0M166.7 380.1h0M162.3 384.6h0M166.1 388.2h0M164.5 407.7h0M161.8 414.0h0M162.1 424.4h0M161.5 430.0h0M168.2 442.4h0M231.4 477.9h0M245.9 487.7h0M237.0 493.5h0M244.5 493.8h0M382.9 477.5h0M406.5 468.9h0M410.5 471.9h0M426.3 471.0h0M403.0 473.0h0M415.2 473.1h0M417.0 478.8h0M455.1 450.6h0M455.9 452.5h0M520.1 480.9h0M562.5 478.0h0M557.3 482.8h0M628.2 463.1h0M697.1 478.9h0M810.6 467.3h0M799.5 471.9h0M813.9 477.0h0M839.8 467.6h0M951.8 472.6h0M1350.1 473.7h0"/><path stroke="#c0d4f5" d="M100.5 402.8h0M95.4 410.0h0M102.5 421.1h0M96.4 441.0h0M164.5 362.4h0M242.3 473.4h0M224.5 477.9h0M233.3 479.4h0M239.3 481.1h0M308.9 471.5h0M375.7 479.7h0M381.4 491.4h0M412.4 471.2h0M417.8 471.5h0M533.0 478.6h0M568.0 473.3h0M559.1 475.0h0M567.2 477.6h0M550.6 479.4h0M555.5 479.9h0M552.3 483.9h0M558.2 491.6h0M699.9 472.6h0M834.9 463.6h0M837.3 463.1h0M838.9 463.8h0M951.8 462.9h0M1296.6 471.2h0"/><path stroke="#7b9ff9" d="M241.3 485.5h0M237.9 487.5h0M306.4 444.6h0M409.0 482.9h0M406.4 484.9h0M418.6 485.3h0M450.7 464.3h0M447.7 466.7h0M626.9 459.4h0M631.9 469.2h0M664.0 459.3h0M666.9 461.9h0M734.7 478.8h0M811.3 465.8h0"/><path stroke="#dddcdc" d="M92.3 388.1h0M83.1 416.3h0M91.0 421.0h0M102.2 436.5h0M233.5 457.2h0M230.4 459.9h0M228.0 465.2h0M237.5 483.3h0M371.3 471.1h0M382.1 473.3h0M389.3 473.5h0M411.3 453.0h0M416.8 457.4h0M417.8 459.9h0M634.8 476.3h0M627.6 491.4h0M734.0 469.9h0M807.1 478.8h0M805.7 481.4h0M844.4 449.9h0M947.9 469.1h0M947.6 476.6h0M955.1 477.4h0M1238.8 469.8h0M1266.2 470.2h0M1268.9 472.6h0M1273.8 474.2h0M1305.9 465.8h0M1306.4 467.3h0M1511.4 470.9h0"/><path stroke="#ee8468" d="M95.9 466.1h0M90.1 472.3h0M95.7 490.5h0M96.7 496.7h0M91.8 502.4h0M88.4 518.7h0M92.7 518.4h0M96.7 524.6h0M101.2 525.1h0M84.2 526.9h0M97.2 528.5h0M85.5 542.4h0M206.6 451.4h0M196.5 457.2h0M209.4 459.7h0M190.7 461.2h0M195.6 464.7h0M206.8 465.1h0M206.0 468.8h0M194.2 472.8h0M211.0 473.0h0M191.5 475.1h0M206.4 474.6h0M200.7 477.0h0M193.0 481.5h0M197.5 489.8h0M197.9 499.1h0M234.4 412.0h0M315.0 480.7h0M299.2 483.5h0M304.4 482.6h0M410.5 447.9h0M409.3 453.5h0M418.8 461.4h0M419.8 464.8h0M552.3 471.1h0M940.3 470.6h0M1096.6 473.2h0M1236.9 468.2h0M1275.4 471.0h0"/><path stroke="#e6d3ca" d="M270.0 460.6h0M276.9 460.2h0M279.8 464.9h0M259.9 466.0h0M269.4 465.5h0M284.2 465.5h0"/><path stroke="#b40426" d="M86.5 538.3h0M104.4 539.0h0M96.9 540.1h0M88.5 543.0h0M83.9 548.9h0M94.9 577.0h0M95.8 582.0h0M93.6 610.9h0M163.1 376.3h0M165.1 422.2h0M204.0 429.0h0M204.7 433.1h0M202.2 445.6h0M205.3 447.5h0M236.9 377.5h0M234.1 395.8h0M314.1 474.5h0M414.9 428.0h0M414.8 430.9h0M413.5 441.0h0M417.1 441.9h0M450.3 458.8h0M512.2 477.9h0M528.8 484.2h0M592.5 448.3h0M620.0 468.4h0M665.5 430.0h0M737.0 434.0h0M839.2 469.9h0M879.9 455.5h0M876.5 465.7h0M949.2 463.2h0M1023.2 463.1h0M1094.8 485.5h0M1094.4 497.4h0M1130.2 499.8h0M1202.1 441.8h0M1309.0 457.4h0M1345.1 449.4h0M1345.0 463.6h0M1416.6 458.4h0M1414.5 463.8h0M1411.1 467.7h0"/><path stroke="#f2cbb7" d="M84.8 406.0h0M94.3 406.9h0M88.3 418.6h0M80.8 422.0h0M91.9 428.3h0M89.8 436.6h0M165.6 376.0h0M162.2 393.8h0M167.2 394.4h0M166.9 397.7h0M164.9 405.6h0M200.3 491.8h0M203.0 497.3h0M200.8 506.9h0M200.3 515.1h0M198.2 522.9h0M232.5 459.7h0M228.3 467.9h0M246.2 471.6h0M310.4 472.7h0M381.6 467.4h0M414.9 449.9h0M419.4 457.3h0M412.2 465.4h0M517.8 471.0h0M529.8 478.1h0M632.0 480.5h0M737.1 460.2h0M811.0 482.0h0M844.4 457.9h0M842.1 459.5h0M838.7 461.5h0M946.1 468.6h0M963.2 471.0h0M944.6 473.3h0M989.1 462.9h0M1094.4 454.6h0M1092.5 461.6h0M1088.3 466.9h0M1092.5 468.9h0M1094.9 473.7h0M1129.2 474.9h0M1237.7 454.0h0M1297.3 469.2h0M1412.3 470.6h0"/><path stroke="#d65244" d="M98.5 510.1h0M85.6 516.4h0M97.7 516.8h0M89.5 520.3h0M89.1 522.1h0M94.5 522.8h0M99.9 528.2h0M84.7 532.3h0M103.5 534.7h0M86.3 536.3h0M83.2 540.8h0M97.7 545.1h0M99.5 544.3h0M86.4 555.0h0M89.5 556.6h0M98.3 556.8h0M87.7 566.3h0M91.7 566.9h0M87.9 568.8h0M90.8 570.2h0M88.4 576.4h0M91.4 598.6h0M92.0 600.2h0M194.4 429.4h0M198.4 433.2h0M199.8 440.9h0M191.0 445.2h0M201.3 449.7h0M191.0 451.3h0M209.7 461.5h0M209.8 463.6h0M189.7 468.7h0M234.3 415.7h0M307.7 479.4h0M412.0 442.9h0M424.1 467.2h0"/><path stroke="#f7ac8e" d="M90.3 422.1h0M86.8 435.0h0M82.9 439.0h0M101.5 441.0h0M92.1 442.1h0M98.3 445.0h0M103.1 445.9h0M84.3 447.9h0M86.5 450.5h0M94.7 454.3h0M94.2 458.4h0M87.7 460.6h0M99.9 463.0h0M96.4 468.0h0M90.1 484.5h0M236.6 434.1h0M233.8 437.5h0M238.4 439.2h0M307.1 493.1h0M376.4 463.0h0M511.2 476.1h0M518.8 476.9h0M1095.7 461.1h0M1091.0 465.2h0M1093.4 465.6h0"/><path stroke="#3b4cc0" d="M92.8 310.9h0M92.7 316.5h0M93.0 322.7h0M93.0 327.1h0M92.0 336.1h0M94.1 338.2h0M91.9 342.2h0M95.9 373.1h0M155.8 454.1h0M158.3 454.5h0M160.4 460.5h0M156.5 470.3h0M168.3 479.8h0M172.7 480.3h0M157.5 481.7h0M165.4 484.5h0M160.9 487.6h0M168.0 488.3h0M170.3 489.6h0M172.6 490.3h0M151.8 496.4h0M167.5 495.4h0M176.4 495.5h0M166.3 499.5h0M161.0 502.5h0M163.4 501.9h0M161.2 503.7h0M173.2 504.3h0M157.3 505.9h0M162.1 506.4h0M164.1 505.6h0M161.2 510.0h0M161.4 511.6h0M168.0 511.7h0M166.7 516.3h0M159.5 518.2h0M165.0 524.0h0M164.4 543.9h0M202.3 490.8h0M198.5 511.8h0M197.8 519.4h0M198.5 538.7h0M201.5 548.7h0M201.6 561.1h0M199.7 562.9h0M200.5 576.8h0M235.4 491.3h0M233.2 499.5h0M232.2 503.5h0M237.0 527.7h0M306.8 440.6h0M305.2 446.9h0M303.4 450.5h0M416.0 495.0h0M418.4 499.8h0M415.1 511.1h0M449.3 470.5h0M445.6 476.5h0M453.5 477.0h0M462.8 483.0h0M455.0 488.7h0M452.2 496.1h0M450.9 501.2h0M522.2 428.8h0M558.0 425.2h0M558.3 437.4h0M558.3 447.8h0M558.0 451.2h0M558.2 453.6h0M587.0 468.5h0M589.0 469.7h0M603.6 470.0h0M603.1 472.7h0M604.7 472.5h0M592.6 475.9h0M594.9 477.9h0M589.8 482.5h0M663.6 465.1h0M661.5 471.8h0M668.9 473.4h0M673.3 473.4h0M675.8 475.9h0M660.4 481.7h0M661.6 483.6h0M699.1 458.3h0M694.7 462.9h0M697.3 462.5h0M713.2 467.0h0M707.9 470.6h0M732.9 475.9h0M736.3 480.4h0M846.7 475.5h0M837.6 480.2h0M839.4 479.1h0M849.2 481.2h0M880.2 471.6h0M884.5 472.4h0M878.3 478.5h0M881.9 477.7h0M879.9 482.5h0M950.0 485.7h0M984.1 471.8h0M988.3 471.9h0M987.7 478.3h0M1024.3 464.9h0M1011.4 470.8h0M1019.3 477.3h0M1130.4 459.2h0M1132.3 460.8h0M1134.7 462.8h0M1159.1 470.4h0M1176.4 472.7h0M1166.9 474.0h0M1161.6 476.0h0M1271.9 478.2h0M1310.5 475.4h0M1378.0 466.2h0M1373.9 472.5h0M1384.9 473.1h0M1382.8 475.0h0M1481.9 471.0h0M1490.1 472.0h0M1590.4 471.0h0M1631.1 471.0h0M1636.4 471.0h0"/><path stroke="#e6d3ca" d="M273.2 455.0h0M270.4 456.2h0M272.1 460.9h0M262.6 465.5h0"/><path stroke="#9ebeff" d="M164.9 387.5h0M164.6 390.4h0M161.6 395.4h0M161.5 410.0h0M164.7 436.0h0M245.1 479.4h0M233.1 487.4h0M374.0 475.6h0M377.6 479.6h0M382.6 483.2h0M381.5 487.6h0M406.3 475.6h0M412.6 475.8h0M445.4 452.9h0M448.3 452.1h0M449.5 461.1h0M514.7 478.5h0M518.7 482.9h0M521.2 482.5h0M560.5 472.8h0M563.3 473.4h0M556.3 475.2h0M549.0 477.3h0M556.5 481.9h0M561.9 483.6h0M556.3 487.9h0M632.0 464.3h0M727.9 476.5h0M810.8 470.9h0M847.5 465.1h0M953.1 478.8h0M952.8 484.5h0M1023.4 467.2h0M1125.2 466.6h0M1135.1 471.5h0M1266.0 472.7h0M1311.3 472.1h0M1301.2 473.6h0M1357.7 473.5h0M1418.4 472.4h0"/><path stroke="#ee8468" d="M98.0 460.5h0M95.9 486.4h0M90.5 491.9h0M96.8 494.9h0M91.6 496.0h0M88.1 508.9h0M94.0 510.0h0M85.7 522.2h0M192.7 442.7h0M209.5 447.2h0M191.4 459.1h0M205.4 458.8h0M199.9 463.1h0M202.8 465.8h0M200.5 467.5h0M201.7 473.0h0M195.7 477.1h0M198.0 477.1h0M193.9 483.3h0M200.2 483.2h0M203.1 482.7h0M202.5 484.6h0M205.4 485.3h0M202.6 506.6h0M234.2 406.2h0M235.6 409.1h0M236.1 413.9h0M234.4 424.1h0M413.5 445.0h0M564.0 471.5h0M593.6 442.5h0M1099.2 473.3h0M1097.4 477.1h0M1236.3 461.9h0M1275.9 473.0h0M1319.2 469.1h0"/><path stroke="#d65244" d="M96.4 493.1h0M90.7 504.7h0M92.3 510.9h0M99.2 512.6h0M95.8 518.9h0M96.3 520.9h0M99.1 523.0h0M99.3 526.0h0M83.8 529.0h0M101.0 534.7h0M82.7 539.0h0M94.8 538.8h0M86.5 544.8h0M100.6 546.6h0M101.7 553.0h0M97.1 554.5h0M100.4 556.2h0M93.0 558.6h0M90.1 560.8h0M91.2 572.6h0M88.2 574.1h0M94.4 578.3h0M94.7 604.6h0M205.0 439.1h0M198.8 449.2h0M206.0 449.0h0M209.9 453.4h0M192.3 457.8h0M197.9 460.8h0M238.4 407.1h0M233.7 409.6h0M312.7 472.8h0M298.5 475.3h0M303.6 475.2h0M698.4 480.2h0M700.5 488.2h0M700.9 493.2h0M701.4 496.2h0"/><path stroke="#c0d4f5" d="M96.1 370.2h0M91.9 394.5h0M99.1 401.0h0M102.5 411.1h0M99.0 412.0h0M98.2 421.1h0M97.8 431.1h0M101.2 442.8h0M226.7 471.5h0M230.9 471.9h0M373.6 484.9h0M376.1 485.0h0M384.6 487.9h0M377.3 489.6h0M422.1 473.2h0M419.0 475.0h0M529.9 472.8h0M593.6 427.8h0M700.3 470.9h0M954.1 473.0h0M976.6 470.1h0M1301.5 469.4h0M1559.6 462.0h0"/><path stroke="#dddcdc" d="M93.4 370.9h0M94.0 392.6h0M103.9 424.2h0M96.1 426.3h0M99.2 426.3h0M94.8 432.2h0M98.7 454.4h0M238.2 457.5h0M236.3 471.3h0M243.1 480.1h0M228.5 482.1h0M379.9 471.5h0M376.8 475.1h0M390.4 475.5h0M387.6 477.8h0M423.3 469.2h0M953.7 465.0h0M955.6 467.2h0M958.6 471.1h0M1416.7 471.7h0M1533.7 470.9h0"/><path stroke="#5977e3" d="M99.6 397.0h0M100.2 410.4h0M163.8 420.5h0M163.9 422.2h0M161.7 425.6h0M166.4 437.8h0M157.5 440.6h0M165.5 443.4h0M172.2 443.8h0M164.1 446.0h0M165.2 450.1h0M163.8 451.5h0M172.5 451.5h0M165.1 458.4h0M158.5 472.6h0M166.2 475.5h0M201.2 546.8h0M246.8 484.0h0M239.4 505.3h0M230.6 507.8h0M233.2 507.4h0M238.1 521.9h0M235.1 527.9h0M410.0 489.9h0M413.8 491.8h0M421.4 491.8h0M409.7 493.6h0M412.7 492.9h0M419.3 493.3h0M413.3 495.2h0M449.2 451.0h0M443.3 469.0h0M447.5 470.3h0M459.2 478.8h0M444.5 487.1h0M522.5 436.6h0M525.9 478.5h0M531.2 481.8h0M605.9 474.6h0M604.6 478.0h0M590.8 480.0h0M629.7 434.8h0M630.7 447.2h0M665.2 445.9h0M663.4 457.4h0M668.3 467.8h0M661.3 469.1h0M668.7 469.9h0M709.8 468.4h0M697.5 473.0h0M702.3 476.9h0M739.1 470.1h0M732.1 474.7h0M806.0 463.5h0M842.8 471.8h0M845.6 487.3h0M978.3 468.1h0M995.6 471.8h0M991.0 474.3h0M989.8 478.2h0M1017.3 464.4h0M1025.7 466.8h0M1098.2 464.7h0M1086.6 468.6h0M1136.8 471.0h0M1169.6 466.9h0M1201.7 468.0h0M1309.1 479.3h0M1345.0 471.1h0M1485.7 472.5h0"/><path stroke="#f2cbb7" d="M85.1 408.4h0M86.9 412.7h0M91.5 412.2h0M103.5 412.7h0M103.7 414.7h0M89.5 424.6h0M101.0 428.9h0M101.7 433.9h0M101.8 458.1h0M162.9 373.6h0M164.2 402.0h0M163.9 426.5h0M202.5 498.8h0M199.9 505.6h0M200.9 525.6h0M235.3 449.6h0M242.0 459.0h0M241.4 461.4h0M228.0 475.9h0M224.5 479.4h0M312.4 477.4h0M307.0 494.8h0M382.8 471.3h0M411.9 445.9h0M409.9 451.9h0M408.9 454.9h0M420.9 455.2h0M414.8 457.9h0M422.4 457.1h0M422.9 463.2h0M530.7 476.3h0M594.0 420.2h0M629.6 471.1h0M701.4 480.2h0M809.3 479.1h0M841.5 464.2h0M947.8 460.8h0M958.5 472.9h0M1091.7 475.6h0M1126.5 479.4h0M1279.0 468.4h0M1273.6 470.7h0"/><path stroke="#7b9ff9" d="M230.0 489.1h0M231.3 498.1h0M304.0 458.8h0M593.3 456.4h0M631.2 449.3h0M629.6 464.5h0M743.3 476.8h0M809.1 465.9h0M803.1 476.8h0"/><path stroke="#b40426" d="M88.4 531.1h0M90.8 530.3h0M84.5 538.2h0M87.8 544.5h0M99.7 562.9h0M92.0 584.6h0M93.2 590.8h0M92.7 594.4h0M92.0 614.5h0M92.7 638.6h0M166.7 386.5h0M167.0 407.6h0M200.3 388.9h0M200.3 391.1h0M200.6 403.0h0M198.7 423.1h0M202.2 424.7h0M199.0 445.5h0M193.4 447.3h0M317.5 476.8h0M310.4 485.0h0M379.3 387.8h0M379.4 404.8h0M379.4 407.9h0M378.9 415.1h0M379.1 417.6h0M414.9 424.0h0M416.1 439.0h0M414.5 441.9h0M417.3 443.6h0M523.2 478.1h0M630.0 472.3h0M852.2 475.4h0M880.8 466.5h0M1094.6 482.8h0M1094.4 492.6h0M1094.3 501.2h0M1130.3 485.0h0M1159.7 466.7h0M1202.2 431.6h0M1202.1 450.6h0M1273.3 440.5h0M1273.2 443.0h0M1273.4 452.6h0M1273.1 454.4h0M1416.7 460.9h0"/><path stroke="#f7ac8e" d="M93.3 402.8h0M84.3 424.2h0M89.5 434.9h0M91.3 438.7h0M103.7 440.3h0M84.8 444.7h0M100.4 444.5h0M90.5 447.0h0M93.3 446.1h0M89.8 448.0h0M84.5 450.2h0M82.1 452.3h0M89.4 455.0h0M92.6 473.9h0M238.2 425.2h0M240.8 457.1h0M242.6 469.9h0M311.9 487.4h0M309.9 492.6h0M373.5 465.8h0M513.2 476.6h0M551.9 475.3h0M846.6 461.7h0M951.5 453.1h0M1098.2 466.9h0M1099.6 468.7h0M1274.1 466.1h0M1274.3 468.1h0"/><path stroke="#5977e3" d="M93.6 363.0h0M165.1 425.6h0M158.6 444.6h0M162.6 445.7h0M171.8 445.9h0M156.1 450.3h0M160.2 450.0h0M168.4 449.8h0M160.9 452.1h0M169.6 456.0h0M164.6 466.1h0M162.8 469.5h0M160.6 471.6h0M161.1 475.6h0M170.2 476.3h0M202.2 538.6h0M241.3 481.0h0M226.4 487.3h0M242.4 490.1h0M244.1 491.7h0M237.3 507.2h0M236.2 517.8h0M380.3 495.3h0M419.7 481.4h0M410.7 495.8h0M411.7 497.4h0M417.6 501.8h0M416.7 504.9h0M445.2 467.0h0M440.9 471.0h0M442.3 471.0h0M438.2 472.8h0M455.6 472.9h0M457.7 476.6h0M446.1 480.6h0M442.2 484.9h0M522.4 463.9h0M513.8 483.0h0M592.4 465.8h0M598.4 469.7h0M629.6 445.5h0M666.8 459.0h0M664.6 469.3h0M666.9 470.9h0M709.5 473.0h0M742.0 474.7h0M809.8 452.8h0M840.7 471.6h0M845.7 483.7h0M981.7 472.8h0M983.3 475.9h0M1017.6 463.5h0M1019.8 464.4h0M1031.4 469.0h0M1162.0 464.2h0M1170.0 464.7h0M1201.3 470.0h0M1271.1 472.1h0M1309.3 480.5h0M1337.5 473.9h0M1492.3 472.9h0"/><path stroke="#c0d4f5" d="M91.0 368.3h0M98.1 386.2h0M98.6 392.1h0M86.8 400.5h0M95.4 405.1h0M96.6 406.8h0M104.1 437.0h0M83.1 440.0h0M164.7 360.0h0M229.3 463.5h0M236.1 466.2h0M235.3 470.1h0M239.7 469.8h0M245.3 478.0h0M306.8 469.0h0M376.3 467.1h0M370.8 472.9h0M381.8 475.8h0M379.7 485.6h0M414.1 469.5h0M422.3 471.7h0M529.3 474.2h0M564.6 473.9h0M559.8 487.1h0M693.8 473.1h0M736.7 474.3h0M836.0 466.0h0M948.0 479.3h0M998.2 468.1h0M1280.8 470.6h0M1413.5 468.7h0M1409.8 472.1h0M1418.1 476.7h0"/><path stroke="#3b4cc0" d="M93.1 314.6h0M93.0 320.4h0M95.0 342.3h0M94.9 344.3h0M94.6 347.9h0M99.1 394.3h0M167.7 443.5h0M172.3 453.4h0M159.7 455.7h0M156.8 457.5h0M157.2 460.2h0M157.7 465.7h0M172.9 470.4h0M165.4 471.6h0M162.8 478.3h0M161.3 479.6h0M155.3 481.6h0M159.3 482.2h0M155.9 484.3h0M158.2 491.9h0M163.2 492.1h0M161.2 493.9h0M166.7 497.6h0M169.5 497.8h0M171.7 506.4h0M156.6 509.8h0M163.5 511.8h0M159.8 514.1h0M171.9 514.4h0M157.5 518.5h0M167.6 520.1h0M167.9 521.5h0M166.1 529.7h0M166.3 533.7h0M164.9 537.6h0M164.3 539.7h0M198.3 503.6h0M202.5 505.6h0M202.0 518.6h0M200.5 564.8h0M236.4 499.5h0M233.8 502.1h0M233.3 505.6h0M238.6 518.1h0M237.8 520.2h0M307.5 431.0h0M306.0 451.6h0M441.3 469.0h0M450.6 472.8h0M447.1 490.3h0M522.2 402.4h0M522.2 412.0h0M522.1 438.1h0M557.8 435.7h0M558.0 443.2h0M600.4 472.2h0M665.0 467.1h0M657.2 475.5h0M662.4 481.9h0M665.1 488.9h0M699.6 456.6h0M699.8 461.1h0M695.4 464.8h0M696.6 466.3h0M704.8 468.6h0M733.9 480.5h0M808.5 451.6h0M807.7 457.9h0M838.2 465.2h0M845.6 471.0h0M850.4 479.2h0M841.5 485.8h0M878.2 468.4h0M880.5 469.6h0M873.1 472.3h0M878.9 480.0h0M880.2 482.0h0M957.6 475.1h0M951.1 480.9h0M956.6 480.5h0M948.7 483.4h0M951.4 488.6h0M984.3 470.3h0M987.2 470.4h0M978.8 474.4h0M987.9 476.6h0M1013.2 472.8h0M1021.6 477.2h0M1024.9 477.0h0M1023.0 489.5h0M1123.3 465.1h0M1118.7 469.1h0M1134.5 469.4h0M1166.6 476.5h0M1167.5 478.8h0M1270.6 476.9h0M1306.7 472.1h0M1310.5 477.4h0M1340.8 475.2h0M1385.2 466.9h0M1383.3 472.2h0M1378.9 475.3h0M1595.3 471.0h0M1600.3 471.0h0M1620.6 471.0h0M1633.7 471.0h0M1644.2 471.0h0"/><path stroke="#e6d3ca" d="M274.7 456.4h0M277.5 458.7h0M281.7 465.0h0"/><path stroke="#ee8468" d="M91.6 464.7h0M96.5 475.1h0M90.9 482.2h0M90.5 487.1h0M98.9 514.7h0M99.7 518.3h0M85.1 520.3h0M88.8 538.7h0M202.4 461.0h0M193.6 464.7h0M190.6 467.8h0M192.2 468.8h0M195.1 471.7h0M196.7 471.8h0M190.0 477.3h0M205.7 476.9h0M210.9 477.7h0M196.7 479.5h0M197.7 481.1h0M207.5 480.9h0M234.6 391.8h0M237.9 393.7h0M233.9 407.4h0M236.1 421.8h0M235.7 430.1h0M297.8 477.1h0M416.1 452.9h0M559.7 465.8h0M593.6 432.6h0M736.8 448.4h0M736.7 452.6h0M1094.4 474.5h0M1272.7 462.5h0"/><path stroke="#9ebeff" d="M91.2 396.9h0M90.8 410.0h0M99.9 420.1h0M82.3 428.8h0M89.5 438.5h0M96.1 444.2h0M166.3 378.2h0M167.3 419.7h0M168.0 427.7h0M170.7 441.6h0M238.7 472.0h0M227.7 474.2h0M240.9 477.8h0M224.9 486.2h0M372.7 483.0h0M375.8 489.5h0M404.7 473.5h0M408.3 474.8h0M405.5 476.9h0M419.9 476.8h0M408.4 479.2h0M449.2 446.5h0M451.7 446.9h0M557.0 471.9h0M554.0 475.2h0M557.7 477.7h0M591.8 456.0h0M630.1 460.6h0M707.7 474.6h0M748.0 473.8h0M958.0 467.3h0M949.3 471.2h0M949.8 479.0h0M946.0 481.1h0M1136.8 469.0h0M1130.7 471.2h0M1261.1 470.8h0M1267.9 471.0h0M1262.0 472.3h0M1335.9 471.5h0M1404.6 471.7h0"/><path stroke="#dddcdc" d="M95.8 376.7h0M92.1 381.0h0M88.2 411.1h0M85.6 417.9h0M81.6 424.2h0M103.1 428.0h0M83.0 446.7h0M240.0 451.9h0M230.0 467.4h0M380.5 477.3h0M413.3 446.8h0M423.6 461.4h0M624.9 481.4h0M798.3 473.9h0M820.2 473.0h0M844.2 453.8h0M1272.4 468.7h0M1275.9 474.5h0"/><path stroke="#f2cbb7" d="M87.3 393.0h0M95.2 400.8h0M89.6 408.6h0M85.9 411.0h0M96.0 412.2h0M88.0 422.8h0M105.4 422.9h0M86.6 424.3h0M96.2 428.8h0M100.9 438.9h0M90.0 440.9h0M88.5 456.1h0M99.0 458.1h0M87.9 462.5h0M164.4 409.4h0M199.8 492.6h0M202.0 511.1h0M199.9 520.6h0M198.3 534.9h0M239.3 453.4h0M237.1 455.7h0M242.9 463.5h0M241.6 465.4h0M247.5 475.4h0M244.6 484.0h0M305.6 477.2h0M409.8 457.3h0M403.7 463.6h0M426.3 463.4h0M532.3 474.2h0M528.8 477.0h0M593.6 426.1h0M638.9 470.7h0M622.2 472.7h0M624.9 477.2h0M632.7 477.2h0M627.0 480.5h0M627.8 483.4h0M737.0 456.3h0M812.0 475.5h0M855.1 465.4h0M849.2 467.2h0M951.8 459.3h0M955.6 463.0h0M956.2 470.8h0M992.8 466.9h0M1092.8 467.4h0M1086.5 470.8h0M1126.6 473.4h0M1127.2 474.6h0M1128.9 477.2h0M1131.2 477.1h0M1267.1 468.3h0M1343.8 466.8h0M1416.5 466.9h0M1414.4 470.9h0"/><path stroke="#f7ac8e" d="M98.9 424.8h0M83.9 430.0h0M95.2 429.9h0M104.0 430.4h0M104.6 432.6h0M89.3 443.0h0M95.5 462.4h0M234.3 439.9h0M236.0 442.2h0M233.6 445.8h0M231.8 455.8h0M235.2 459.2h0M239.3 459.7h0M313.4 483.3h0M304.9 484.5h0M307.5 485.3h0M564.7 475.3h0M808.4 485.4h0M846.8 463.7h0M853.4 465.2h0M1104.9 471.6h0M1123.7 471.0h0M1132.2 473.0h0M1131.0 474.4h0"/><path stroke="#d65244" d="M97.4 502.7h0M92.9 504.2h0M98.6 508.0h0M96.7 512.3h0M90.2 516.6h0M83.9 524.8h0M96.9 534.0h0M97.0 536.2h0M89.3 540.3h0M85.6 548.3h0M97.8 548.8h0M89.2 552.0h0M94.7 555.9h0M90.2 558.6h0M85.8 561.0h0M94.6 567.0h0M96.7 578.7h0M89.5 582.7h0M92.0 582.0h0M93.7 582.0h0M93.3 586.7h0M93.3 588.4h0M197.2 429.2h0M198.9 429.7h0M204.3 431.0h0M192.6 434.7h0M206.6 437.7h0M200.2 439.6h0M207.1 439.1h0M209.2 439.5h0M193.7 445.7h0M191.5 449.8h0M202.4 450.7h0M199.4 453.4h0M201.8 453.4h0M207.2 452.9h0M191.5 464.8h0M237.7 402.2h0M236.5 411.9h0M237.7 413.7h0M309.2 475.0h0M300.5 481.5h0M413.3 449.2h0M424.7 465.8h0M410.7 469.6h0M556.8 459.2h0M698.8 483.0h0M700.1 485.1h0M736.7 442.5h0"/><path stroke="#b40426" d="M94.3 554.5h0M92.8 564.1h0M90.6 592.7h0M93.3 622.2h0M93.1 636.0h0M164.0 383.9h0M162.4 385.7h0M161.9 388.2h0M161.8 408.6h0M200.6 386.8h0M200.4 399.2h0M197.7 443.5h0M235.9 371.5h0M237.7 385.1h0M237.1 391.0h0M303.4 479.2h0M307.2 480.8h0M379.3 383.2h0M379.4 400.9h0M379.2 413.8h0M379.1 421.0h0M379.1 426.8h0M379.0 437.0h0M522.5 474.0h0M532.0 480.9h0M633.4 467.3h0M627.4 469.4h0M881.7 461.8h0M946.1 464.7h0M986.1 458.0h0M988.2 458.8h0M987.9 460.4h0M1029.7 467.3h0M1130.2 483.3h0M1130.6 499.0h0M1201.7 436.6h0M1201.7 438.1h0M1202.1 456.0h0M1201.9 458.0h0M1273.5 438.7h0M1309.4 445.0h0M1308.9 448.0h0M1344.7 453.2h0M1345.0 457.6h0M1379.4 476.6h0M1426.1 470.4h0"/><path stroke="#7b9ff9" d="M231.9 495.2h0M304.2 463.6h0M378.3 483.3h0M382.4 489.1h0M405.1 479.8h0M418.4 491.6h0M449.2 462.1h0M594.0 438.4h0M594.0 440.0h0M594.0 444.2h0M592.5 463.8h0M631.9 454.8h0M734.0 474.0h0M988.8 473.8h0M1169.9 462.7h0"/><path stroke="#9ebeff" d="M87.0 390.9h0M102.4 422.2h0M94.7 424.5h0M91.7 436.6h0M96.1 438.0h0M95.2 446.4h0M100.5 446.2h0M167.2 396.3h0M164.1 404.1h0M162.8 434.5h0M239.0 465.1h0M228.7 485.9h0M234.0 485.6h0M380.2 489.3h0M403.3 471.0h0M409.6 473.6h0M421.9 477.0h0M513.9 472.4h0M528.4 471.9h0M517.7 480.2h0M554.6 469.2h0M557.5 485.6h0M595.4 456.3h0M737.6 476.4h0M808.7 473.1h0M949.2 464.7h0M959.4 468.6h0M947.0 473.5h0M948.7 472.5h0M982.0 474.8h0M1128.0 471.1h0M1412.4 474.4h0M1416.3 481.7h0"/><path stroke="#dddcdc" d="M92.6 376.0h0M91.5 454.3h0M96.8 455.0h0M233.6 463.5h0M372.4 475.8h0M379.0 475.6h0M383.9 474.9h0M384.7 477.4h0M412.2 451.6h0M420.4 453.6h0M426.8 464.9h0M427.0 466.9h0M635.5 475.4h0M629.1 479.0h0M631.9 478.8h0M633.2 485.2h0M631.7 490.6h0M801.4 473.8h0M950.0 475.0h0M1311.2 469.6h0M1407.7 472.5h0M1421.0 474.9h0M1523.8 470.9h0M1526.3 470.9h0M1536.2 470.9h0"/><path stroke="#d65244" d="M89.5 490.1h0M97.3 501.0h0M87.8 519.9h0M101.0 520.4h0M86.0 528.5h0M85.8 531.1h0M93.6 533.0h0M81.2 536.8h0M89.2 536.4h0M92.2 536.3h0M83.9 542.3h0M90.7 542.3h0M90.7 544.3h0M99.9 548.7h0M89.4 550.0h0M101.4 550.8h0M87.3 551.9h0M87.9 561.1h0M97.9 560.6h0M99.3 566.9h0M87.7 569.9h0M91.9 576.6h0M93.9 580.7h0M96.0 580.4h0M95.7 586.4h0M201.5 416.9h0M203.2 427.1h0M194.4 434.7h0M208.8 435.5h0M209.1 445.3h0M195.5 446.8h0M195.3 451.7h0M196.7 453.3h0M191.7 454.8h0M200.0 461.0h0M192.9 462.9h0M207.1 463.5h0M234.2 390.0h0M380.2 453.8h0M408.4 458.0h0M411.2 462.8h0M1239.1 464.5h0M1236.8 466.2h0M1344.8 454.9h0"/><path stroke="#3b4cc0" d="M93.0 304.5h0M93.7 334.2h0M92.8 355.0h0M88.6 384.3h0M158.2 446.5h0M170.9 450.5h0M157.3 461.6h0M173.7 473.7h0M163.7 475.6h0M158.3 477.6h0M159.0 479.5h0M174.6 479.6h0M159.0 486.3h0M163.9 486.0h0M155.7 489.5h0M163.8 493.9h0M170.6 493.7h0M157.8 497.9h0M171.3 499.6h0M163.7 504.4h0M158.1 508.2h0M159.4 508.0h0M162.4 508.0h0M172.8 511.8h0M165.1 515.5h0M168.6 518.0h0M171.6 517.4h0M166.2 522.3h0M169.9 522.4h0M163.3 527.5h0M161.7 530.3h0M198.7 487.1h0M200.6 495.3h0M197.8 501.2h0M199.9 511.5h0M199.9 517.7h0M201.9 523.0h0M201.9 524.7h0M197.7 527.1h0M198.5 541.8h0M202.1 543.6h0M202.0 545.2h0M237.7 491.8h0M237.3 495.5h0M240.3 495.6h0M240.0 509.2h0M235.5 512.1h0M307.4 428.6h0M307.4 432.4h0M307.7 437.0h0M306.6 442.5h0M306.8 461.2h0M416.9 504.0h0M413.9 505.9h0M439.4 468.9h0M448.5 468.6h0M463.5 472.7h0M452.6 475.1h0M443.2 476.9h0M447.0 478.5h0M447.9 484.2h0M454.9 490.7h0M522.2 424.9h0M522.1 444.3h0M595.5 467.6h0M597.1 468.8h0M605.3 468.5h0M629.1 446.7h0M660.9 465.2h0M665.6 466.0h0M654.1 471.8h0M676.6 471.3h0M670.9 472.8h0M656.9 479.2h0M667.9 481.7h0M663.7 483.2h0M665.5 487.9h0M701.3 449.0h0M702.0 460.1h0M707.3 462.9h0M689.0 467.0h0M700.7 466.1h0M703.3 466.3h0M708.3 466.8h0M697.3 469.2h0M744.0 472.1h0M841.6 479.8h0M874.8 471.8h0M871.6 474.2h0M876.8 474.5h0M887.9 473.9h0M877.8 475.9h0M882.0 476.4h0M945.6 474.9h0M954.2 483.6h0M992.9 478.2h0M987.3 482.7h0M1026.6 470.8h0M1031.6 471.3h0M1027.2 475.5h0M1023.0 487.0h0M1129.9 462.9h0M1137.8 467.1h0M1166.2 486.1h0M1305.9 475.2h0M1343.0 469.2h0M1381.9 463.1h0M1371.1 468.5h0M1488.0 464.8h0M1479.0 471.1h0M1602.8 471.0h0"/><path stroke="#7b9ff9" d="M234.3 477.5h0M236.6 485.4h0M235.7 488.1h0M228.6 491.6h0M309.6 464.8h0M382.7 479.0h0M423.9 480.0h0M411.6 483.4h0M414.9 487.4h0M804.8 465.0h0M801.7 468.9h0M810.2 469.7h0M810.4 473.3h0M1559.6 466.0h0"/><path stroke="#f2cbb7" d="M91.0 384.3h0M94.7 388.5h0M91.2 397.9h0M80.7 416.2h0M94.9 418.8h0M84.1 433.0h0M84.7 434.0h0M91.9 448.6h0M161.2 399.7h0M199.8 489.7h0M197.9 525.0h0M239.1 447.9h0M236.7 459.8h0M232.1 461.9h0M235.3 467.8h0M243.8 472.0h0M232.0 475.8h0M238.8 479.7h0M373.8 463.3h0M413.0 457.5h0M422.6 459.3h0M418.0 463.6h0M417.2 465.1h0M518.8 469.0h0M523.9 476.2h0M702.3 484.5h0M737.1 462.7h0M812.4 476.8h0M844.8 461.4h0M990.9 466.3h0M1102.1 468.5h0M1104.5 468.8h0M1271.8 466.2h0M1306.9 469.1h0M1340.9 469.1h0M1409.5 470.0h0"/><path stroke="#ee8468" d="M90.3 464.1h0M91.4 468.3h0M92.7 484.0h0M93.5 488.9h0M93.9 492.9h0M93.9 494.4h0M88.4 501.1h0M96.4 510.9h0M94.9 514.7h0M94.1 524.0h0M91.3 526.5h0M82.1 533.1h0M194.8 454.9h0M193.3 458.7h0M200.2 465.3h0M194.7 468.8h0M191.7 471.2h0M202.6 476.9h0M207.4 477.5h0M203.7 478.8h0M206.6 483.4h0M201.4 487.2h0M234.9 394.1h0M236.2 426.2h0M238.6 431.8h0M300.2 484.7h0M418.0 445.8h0M557.8 464.9h0M555.0 467.8h0M593.5 433.8h0M621.7 468.6h0M737.1 454.7h0M960.8 473.7h0M1102.9 471.4h0M1237.8 455.6h0M1271.9 464.5h0M1416.6 470.3h0M1421.9 470.2h0"/><path stroke="#5977e3" d="M89.8 391.9h0M88.3 400.5h0M91.0 404.7h0M161.4 403.6h0M161.7 419.9h0M158.4 437.5h0M171.3 438.5h0M160.4 440.6h0M169.1 439.6h0M170.1 443.5h0M165.2 454.4h0M172.0 458.0h0M169.3 460.5h0M165.0 467.9h0M226.7 485.2h0M239.3 493.4h0M237.9 502.2h0M234.1 511.8h0M232.9 513.6h0M239.0 514.2h0M236.7 515.6h0M233.8 519.4h0M311.6 449.3h0M303.6 453.6h0M305.0 454.5h0M306.5 458.9h0M309.5 459.4h0M407.7 489.8h0M414.7 489.0h0M416.5 499.6h0M455.1 455.1h0M453.3 468.3h0M460.7 472.0h0M451.9 478.6h0M459.8 483.0h0M522.5 414.2h0M521.7 468.8h0M594.1 462.6h0M588.2 475.8h0M629.7 441.1h0M665.0 453.9h0M654.3 473.9h0M658.2 477.6h0M695.3 470.5h0M710.2 470.5h0M730.9 475.8h0M738.9 479.8h0M737.9 482.1h0M808.2 441.8h0M806.5 461.4h0M831.9 467.0h0M849.5 471.8h0M851.3 477.3h0M993.0 474.2h0M1022.4 465.4h0M1131.0 469.1h0M1272.9 472.7h0M1345.7 469.7h0M1494.6 473.0h0"/><path stroke="#c0d4f5" d="M93.2 387.0h0M89.5 390.7h0M99.3 434.4h0M101.7 454.3h0M237.5 475.2h0M307.2 470.5h0M304.9 473.0h0M376.0 470.9h0M560.1 485.0h0M558.0 491.4h0M842.1 461.4h0M980.9 468.5h0M994.6 467.8h0M979.9 470.0h0M1271.0 470.2h0M1417.8 477.8h0"/><path stroke="#e6d3ca" d="M268.9 457.0h0M270.8 462.7h0M280.4 462.8h0M264.9 465.9h0"/><path stroke="#b40426" d="M87.6 532.7h0M86.7 562.2h0M90.0 587.0h0M93.8 606.7h0M92.0 616.7h0M93.4 617.0h0M92.9 626.4h0M163.7 368.5h0M163.5 377.6h0M164.7 381.8h0M162.4 390.1h0M164.8 392.5h0M167.1 404.5h0M167.2 418.0h0M200.6 397.7h0M200.1 409.6h0M200.2 419.5h0M202.8 419.4h0M201.2 423.0h0M197.8 426.7h0M190.8 439.4h0M202.6 443.0h0M205.7 442.7h0M210.4 443.0h0M202.3 446.7h0M235.8 373.3h0M237.1 379.8h0M234.4 397.2h0M307.6 477.4h0M314.1 487.1h0M379.2 395.6h0M379.4 429.1h0M378.9 434.9h0M414.8 421.4h0M414.8 425.3h0M525.7 482.3h0M525.0 488.1h0M624.7 465.1h0M627.4 473.0h0M665.2 431.2h0M665.4 437.8h0M736.7 424.7h0M736.9 428.3h0M851.8 471.6h0M834.2 473.9h0M879.1 460.2h0M986.4 460.0h0M1023.2 455.2h0M1202.1 430.1h0M1308.9 455.7h0M1345.2 461.7h0M1380.5 491.1h0"/><path stroke="#f7ac8e" d="M83.6 423.0h0M99.4 428.6h0M93.6 441.0h0M96.1 442.3h0M85.6 446.8h0M101.5 456.7h0M98.1 466.6h0M94.3 468.1h0M96.5 470.4h0M92.3 472.9h0M204.9 481.5h0M236.0 439.8h0M238.9 442.2h0M233.1 449.5h0M237.0 452.0h0M235.2 461.6h0M237.9 463.7h0M312.8 489.5h0M524.3 469.9h0M516.2 472.2h0M521.5 476.9h0M843.7 463.5h0M843.2 465.9h0M1094.0 459.4h0M1093.1 463.1h0M1088.6 471.1h0M1129.1 479.0h0M1270.1 466.5h0"/><path stroke="#b40426" d="M93.0 528.3h0M85.1 534.0h0M88.1 546.6h0M88.5 548.2h0M95.0 548.1h0M91.5 550.2h0M88.8 554.3h0M95.2 596.6h0M93.8 608.5h0M92.8 633.0h0M164.6 363.7h0M163.5 369.7h0M166.8 390.2h0M167.8 401.9h0M200.2 401.6h0M199.5 415.0h0M196.8 421.6h0M197.1 423.5h0M203.5 423.4h0M195.1 425.5h0M205.2 427.6h0M203.8 434.8h0M205.0 441.1h0M209.5 451.3h0M236.2 365.1h0M237.3 387.8h0M237.7 397.9h0M234.3 399.1h0M305.1 487.2h0M378.9 397.7h0M379.2 423.2h0M379.1 433.4h0M453.2 454.9h0M448.8 458.7h0M520.0 488.3h0M521.9 487.9h0M522.3 492.6h0M594.9 447.7h0M595.3 458.6h0M665.4 439.8h0M705.8 479.0h0M832.2 469.0h0M881.0 468.0h0M883.8 468.2h0M882.8 470.5h0M956.2 465.3h0M1023.1 453.2h0M1094.7 478.7h0M1094.8 502.3h0M1130.6 493.4h0M1130.3 496.5h0M1201.7 460.7h0M1273.5 457.2h0M1308.9 450.2h0M1309.5 459.4h0M1313.2 465.2h0M1380.5 478.6h0"/><path stroke="#f7ac8e" d="M82.2 412.0h0M85.2 412.6h0M97.5 416.4h0M93.1 418.8h0M94.6 426.3h0M100.9 426.4h0M103.7 434.1h0M99.1 436.4h0M103.5 443.0h0M82.5 445.0h0M100.8 448.9h0M90.0 450.1h0M94.7 450.1h0M86.6 454.1h0M85.6 456.3h0M95.5 456.4h0M84.7 458.3h0M96.6 458.3h0M100.0 459.9h0M88.5 466.3h0M89.8 470.8h0M93.0 478.3h0M237.4 409.1h0M236.6 435.4h0M234.0 441.4h0M239.1 445.4h0M233.8 447.3h0M384.0 463.0h0M525.0 480.9h0M560.2 478.0h0M951.4 451.4h0M1093.8 457.2h0M1095.8 459.0h0M1083.7 470.6h0M1095.5 470.8h0"/><path stroke="#c0d4f5" d="M92.6 382.8h0M102.0 430.3h0M94.5 436.8h0M93.2 466.7h0M307.8 463.1h0M305.9 466.7h0M371.7 467.8h0M375.4 469.3h0M378.2 473.8h0M376.6 481.0h0M385.7 483.9h0M408.1 471.6h0M421.9 475.5h0M521.9 466.4h0M548.6 473.8h0M561.2 475.6h0M565.1 476.9h0M558.3 487.2h0M696.2 475.3h0M698.2 475.0h0M701.1 475.1h0M837.1 468.0h0"/><path stroke="#5977e3" d="M95.1 367.0h0M86.5 398.8h0M166.7 413.7h0M162.1 418.0h0M164.4 424.6h0M161.2 427.9h0M165.3 427.6h0M162.6 432.2h0M166.1 431.8h0M170.0 436.2h0M163.8 441.8h0M156.2 444.6h0M172.7 448.1h0M155.7 474.1h0M199.0 561.2h0M246.0 481.4h0M247.5 485.8h0M233.8 497.5h0M309.4 449.4h0M414.9 493.6h0M451.3 453.0h0M453.1 456.9h0M440.4 472.7h0M454.8 484.9h0M522.0 407.8h0M522.1 448.5h0M522.5 454.9h0M522.0 457.8h0M522.9 482.9h0M558.3 445.4h0M599.6 468.1h0M590.3 472.6h0M627.5 454.8h0M628.3 460.4h0M672.0 469.0h0M656.7 471.9h0M736.4 468.2h0M743.6 480.6h0M738.1 484.5h0M851.3 467.4h0M841.7 469.6h0M855.7 469.7h0M834.0 472.0h0M839.0 471.6h0M841.5 473.9h0M842.9 487.9h0M981.8 470.4h0M986.5 476.0h0M1164.9 462.6h0M1166.9 466.6h0M1172.7 466.2h0M1173.4 468.0h0M1158.4 472.1h0M1201.8 462.6h0M1380.8 468.8h0M1497.0 472.8h0"/><path stroke="#f2cbb7" d="M90.7 400.6h0M81.9 414.3h0M85.4 422.1h0M88.9 426.9h0M88.6 433.1h0M87.2 452.0h0M165.4 367.9h0M197.7 504.8h0M235.0 453.5h0M240.1 456.1h0M301.2 475.4h0M308.0 489.6h0M375.2 465.1h0M418.5 446.9h0M412.5 459.7h0M419.8 467.0h0M519.5 470.9h0M622.7 471.1h0M623.8 475.2h0M632.6 474.8h0M630.0 481.3h0M628.8 487.4h0M627.5 489.1h0M805.3 478.8h0M853.9 463.5h0M951.5 455.5h0M951.7 467.0h0M1091.4 463.1h0M1128.8 473.0h0M1134.0 476.8h0"/><path stroke="#3b4cc0" d="M93.0 302.6h0M94.2 332.8h0M90.9 346.6h0M171.3 461.9h0M167.4 467.6h0M161.4 469.9h0M162.9 471.8h0M159.4 477.5h0M171.3 477.9h0M156.2 480.6h0M166.5 482.0h0M175.5 483.8h0M153.6 486.5h0M165.6 486.2h0M170.7 485.7h0M156.0 488.3h0M170.1 488.3h0M160.8 489.5h0M161.4 491.5h0M166.0 491.6h0M153.8 494.4h0M174.4 496.0h0M174.3 498.5h0M157.8 500.1h0M163.8 499.5h0M168.2 501.7h0M173.1 501.9h0M154.7 503.8h0M155.3 508.1h0M164.2 508.3h0M167.2 507.6h0M173.9 507.5h0M163.5 510.3h0M170.4 510.5h0M170.6 511.4h0M169.8 516.6h0M161.0 520.0h0M165.3 519.9h0M165.4 528.2h0M168.2 530.3h0M164.6 532.3h0M164.4 533.8h0M198.5 509.6h0M198.1 528.6h0M199.9 530.7h0M199.7 533.2h0M199.4 551.4h0M201.5 554.6h0M200.4 575.2h0M237.1 513.6h0M236.1 536.1h0M307.6 427.6h0M308.6 440.5h0M309.8 445.4h0M312.4 452.9h0M304.5 461.0h0M408.9 491.8h0M439.8 466.8h0M442.2 466.3h0M452.4 466.9h0M454.0 466.7h0M455.9 470.2h0M459.2 470.8h0M460.8 470.7h0M463.1 470.8h0M438.9 474.4h0M450.5 474.2h0M459.9 474.6h0M440.5 476.5h0M451.0 480.6h0M463.0 480.6h0M455.7 482.7h0M445.7 484.5h0M453.0 489.0h0M522.1 440.5h0M558.1 429.9h0M602.9 468.5h0M596.3 470.4h0M591.4 474.7h0M594.2 473.8h0M598.3 473.7h0M601.3 474.6h0M587.9 477.6h0M597.9 478.6h0M593.9 482.8h0M594.9 484.2h0M673.8 469.0h0M676.6 469.4h0M661.8 475.8h0M670.5 477.6h0M671.6 479.1h0M665.3 481.0h0M668.1 483.7h0M697.1 465.0h0M741.8 479.7h0M854.3 474.1h0M846.1 478.0h0M848.4 477.7h0M882.5 471.8h0M995.0 473.8h0M1014.7 470.8h0M1034.0 471.5h0M1030.3 472.9h0M1032.6 473.2h0M1024.2 474.5h0M1022.8 491.9h0M1128.8 460.5h0M1125.6 462.5h0M1131.2 466.8h0M1135.7 467.4h0M1132.6 470.6h0M1172.1 474.4h0M1347.1 471.8h0M1349.3 471.0h0M1382.5 464.7h0M1377.9 473.0h0M1483.0 468.3h0M1483.8 472.7h0M1597.8 471.0h0M1618.0 471.0h0"/><path stroke="#7b9ff9" d="M231.1 479.7h0M225.9 483.1h0M235.1 483.1h0M311.7 458.8h0M308.1 465.2h0M378.4 485.6h0M403.4 479.5h0M425.0 481.9h0M416.5 483.7h0M417.3 487.8h0M417.4 489.6h0M419.3 489.0h0"/><path stroke="#e6d3ca" d="M271.7 452.5h0M264.8 460.4h0M263.4 465.0h0M278.4 465.8h0"/><path stroke="#9ebeff" d="M88.1 404.6h0M98.3 404.8h0M97.3 436.9h0M166.0 370.0h0M164.6 400.4h0M167.5 416.2h0M228.4 483.4h0M240.3 489.6h0M380.4 483.3h0M376.9 491.4h0M412.3 467.9h0M415.0 474.8h0M403.2 476.8h0M409.6 477.1h0M412.6 479.6h0M404.5 481.5h0M452.3 444.4h0M450.2 454.1h0M452.5 458.9h0M512.1 474.0h0M526.7 480.7h0M555.7 463.1h0M558.8 469.5h0M558.8 471.0h0M558.5 473.6h0M549.2 481.2h0M549.7 483.3h0M592.8 449.6h0M595.8 452.3h0M595.2 460.5h0M633.1 462.9h0M699.3 478.3h0M808.6 467.5h0M814.6 469.8h0M946.6 471.5h0M1025.1 462.7h0M1133.3 466.6h0M1124.2 468.7h0M1125.8 470.5h0M1285.3 472.6h0M1313.6 468.0h0M1321.3 470.0h0M1342.0 471.5h0M1355.1 471.2h0M1488.3 476.4h0"/><path stroke="#ee8468" d="M95.8 476.8h0M92.5 482.3h0M94.0 502.6h0M95.9 506.1h0M91.5 524.8h0M96.6 531.9h0M87.0 539.9h0M204.6 457.1h0M191.3 462.8h0M195.9 463.2h0M197.5 463.0h0M205.6 466.9h0M209.3 469.8h0M209.2 475.7h0M208.9 479.8h0M205.4 483.0h0M200.0 484.7h0M234.7 435.2h0M298.5 478.9h0M301.9 483.4h0M307.5 487.4h0M304.9 489.5h0M381.8 459.6h0M383.6 468.0h0M403.0 465.4h0M407.8 465.5h0M417.1 467.1h0M636.8 469.4h0M636.3 473.0h0M1094.7 469.2h0M1168.7 468.6h0M1238.1 458.3h0M1238.6 461.8h0M1285.9 470.7h0M1380.7 490.4h0"/><path stroke="#d65244" d="M97.6 504.4h0M97.9 506.2h0M92.4 508.8h0M92.2 512.8h0M85.7 519.0h0M99.6 524.0h0M102.2 528.3h0M102.9 530.4h0M89.8 532.0h0M92.6 544.7h0M93.6 545.9h0M84.7 552.8h0M84.1 554.3h0M91.5 554.1h0M101.6 554.8h0M85.6 558.5h0M87.4 558.3h0M95.4 559.0h0M95.3 560.0h0M98.0 564.7h0M90.5 568.1h0M98.3 570.7h0M97.4 574.2h0M89.1 580.5h0M91.5 596.9h0M197.9 438.7h0M203.6 445.2h0M191.5 446.6h0M193.4 450.7h0M206.9 457.4h0M207.2 459.4h0M196.5 469.0h0M234.3 387.3h0M235.9 427.5h0M376.8 457.7h0M559.4 459.1h0M560.3 463.3h0M701.9 486.1h0M1236.4 464.7h0"/><path stroke="#dddcdc" d="M85.0 414.0h0M88.1 416.8h0M100.1 430.6h0M87.4 438.0h0M92.6 456.1h0M235.9 463.2h0M233.3 466.1h0M226.6 470.0h0M235.1 474.1h0M384.6 469.9h0M373.6 472.9h0M367.3 475.0h0M419.1 448.9h0M418.6 453.4h0M408.0 459.4h0M408.8 463.4h0M625.0 472.8h0M634.1 481.2h0M627.9 485.2h0M633.0 486.8h0M736.3 466.3h0M736.7 469.8h0M805.3 475.2h0M809.0 477.1h0M951.5 465.3h0M1421.2 468.3h0M1531.2 470.9h0"/><path stroke="#9ebeff" d="M103.6 438.6h0M88.0 446.9h0M166.1 383.9h0M164.6 385.9h0M226.5 477.3h0M237.6 481.8h0M379.2 491.4h0M408.4 467.1h0M403.8 469.0h0M410.6 475.6h0M424.5 475.9h0M414.6 477.5h0M424.5 477.7h0M427.5 477.9h0M446.7 450.2h0M455.1 461.0h0M520.6 466.8h0M518.7 472.4h0M513.4 480.3h0M514.9 480.7h0M555.7 478.0h0M548.3 479.8h0M563.2 479.5h0M625.2 467.0h0M807.1 469.5h0M804.1 471.9h0M806.2 471.9h0M812.5 471.7h0M802.0 475.2h0M807.8 476.0h0M854.0 467.8h0M856.4 467.4h0M953.1 469.2h0M955.4 475.7h0M945.6 477.3h0M955.1 479.3h0M1166.3 456.8h0M1300.0 469.2h0M1303.9 474.0h0M1341.4 473.7h0M1411.3 472.6h0M1416.8 482.0h0"/><path stroke="#f7ac8e" d="M85.6 420.9h0M93.0 420.8h0M87.0 440.3h0M91.6 444.2h0M101.6 450.2h0M98.0 456.2h0M91.5 470.9h0M94.3 476.0h0M233.7 428.1h0M235.9 443.1h0M295.4 479.1h0M306.5 490.7h0M518.1 486.7h0M737.1 446.7h0M951.7 457.1h0M1094.9 456.8h0M1133.8 475.0h0M1131.8 478.5h0"/><path stroke="#dddcdc" d="M94.1 378.8h0M92.9 410.1h0M97.9 410.4h0M92.3 452.5h0M230.1 483.5h0M386.3 467.4h0M377.6 471.0h0M375.5 473.3h0M390.6 477.6h0M413.7 437.3h0M415.3 443.6h0M418.5 469.0h0M450.6 440.6h0M626.9 476.6h0M626.7 486.6h0M629.8 497.6h0M957.1 469.0h0M960.4 471.5h0M1415.2 474.6h0"/><path stroke="#5977e3" d="M161.2 412.1h0M163.9 433.6h0M168.3 437.9h0M162.5 439.5h0M167.0 455.7h0M169.3 466.2h0M172.2 467.8h0M231.5 485.8h0M224.7 490.1h0M241.9 491.1h0M243.8 497.4h0M310.2 452.9h0M408.4 485.9h0M413.1 503.7h0M453.5 452.9h0M447.8 456.5h0M446.6 458.6h0M522.5 430.3h0M522.2 446.4h0M522.4 450.0h0M522.2 462.4h0M523.8 466.0h0M518.6 484.0h0M593.3 469.8h0M597.8 482.2h0M628.3 453.1h0M631.6 457.0h0M666.2 455.3h0M664.9 462.8h0M734.9 468.4h0M741.9 471.8h0M808.6 449.8h0M809.7 463.2h0M841.6 467.0h0M836.6 474.0h0M846.6 473.3h0M848.3 484.0h0M985.9 472.2h0M990.7 476.1h0M1020.2 463.0h0M1028.8 462.5h0M1101.0 466.8h0M1136.8 464.7h0M1163.9 464.4h0M1160.8 468.3h0M1201.8 464.0h0M1308.7 473.9h0M1334.3 473.6h0M1343.5 473.3h0M1355.5 473.7h0M1373.7 469.2h0M1388.1 468.1h0M1415.8 461.7h0M1414.5 466.2h0M1418.2 466.2h0M1416.2 468.4h0M1491.6 471.1h0M1496.3 470.2h0"/><path stroke="#7b9ff9" d="M247.1 489.8h0M233.2 493.2h0M234.6 494.1h0M305.5 457.5h0M307.0 466.5h0M380.7 497.7h0M421.9 478.9h0M406.6 483.5h0M418.7 483.2h0M413.3 484.9h0M409.8 487.4h0M417.9 492.9h0M446.2 456.4h0M450.2 456.7h0M629.8 459.0h0M725.8 474.4h0M809.9 459.9h0M817.0 471.9h0M815.2 473.2h0M1165.6 460.3h0M1165.9 464.0h0M1559.6 464.4h0"/><path stroke="#e6d3ca" d="M269.9 454.8h0M267.4 460.7h0M270.4 464.7h0M267.3 466.0h0M271.7 465.4h0"/><path stroke="#c0d4f5" d="M90.8 344.6h0M95.3 350.0h0M93.3 359.0h0M96.1 388.5h0M95.4 403.0h0M93.2 404.6h0M87.1 408.3h0M89.6 412.7h0M92.2 414.3h0M84.8 426.9h0M93.8 438.3h0M91.7 440.6h0M93.9 448.1h0M232.9 467.7h0M229.9 474.0h0M378.2 469.9h0M373.8 481.9h0M416.7 469.8h0M414.7 471.1h0M419.5 470.9h0M427.7 473.3h0M426.1 475.8h0M522.5 470.9h0M526.9 470.1h0M517.3 474.7h0M516.4 475.9h0M550.8 473.5h0M548.9 475.1h0M1419.4 470.5h0M1413.6 472.9h0M1421.4 472.8h0M1415.7 478.0h0"/><path stroke="#b40426" d="M100.8 542.3h0M90.6 548.3h0M94.3 598.8h0M94.6 602.4h0M92.0 610.7h0M91.9 612.1h0M93.1 624.1h0M92.8 634.3h0M93.0 638.1h0M165.9 365.7h0M166.9 382.1h0M167.7 399.7h0M200.4 405.4h0M204.6 424.7h0M201.6 431.2h0M190.5 442.6h0M236.1 367.6h0M235.9 377.5h0M310.4 478.4h0M305.2 480.9h0M378.9 399.3h0M379.2 411.0h0M415.2 433.4h0M525.3 485.9h0M594.7 449.7h0M665.4 435.2h0M664.2 455.2h0M736.9 426.7h0M878.4 466.5h0M987.1 454.4h0M987.0 456.5h0M1023.2 449.2h0M1094.7 481.5h0M1130.3 489.0h0M1130.2 490.4h0M1201.8 440.3h0M1201.8 444.2h0M1273.2 450.7h0M1273.8 460.3h0M1382.1 476.7h0M1380.9 487.2h0"/><path stroke="#d65244" d="M89.0 498.3h0M92.2 500.2h0M88.1 504.9h0M89.8 509.1h0M96.6 514.3h0M93.4 516.2h0M91.6 520.7h0M86.9 522.4h0M93.1 530.6h0M99.8 530.9h0M101.3 536.9h0M91.9 538.3h0M93.5 542.0h0M96.0 547.0h0M103.5 545.9h0M94.8 550.3h0M97.2 551.1h0M98.7 550.8h0M99.6 552.1h0M100.4 559.0h0M101.1 560.5h0M88.9 573.0h0M98.1 572.5h0M95.8 574.7h0M90.5 588.4h0M206.0 435.5h0M195.8 439.1h0M197.0 449.5h0M198.0 459.5h0M193.5 461.1h0M198.3 467.2h0M210.9 467.8h0M237.6 421.3h0M312.7 479.3h0M379.2 447.2h0M379.0 449.1h0M556.6 460.8h0M701.3 490.4h0M1238.7 460.6h0"/><path stroke="#f2cbb7" d="M91.9 390.4h0M85.9 402.7h0M88.6 420.9h0M96.8 434.3h0M99.0 452.1h0M83.4 456.1h0M91.2 462.3h0M93.5 462.8h0M161.6 398.0h0M200.8 502.6h0M231.4 465.6h0M243.8 467.4h0M380.7 465.8h0M371.2 469.5h0M417.0 449.0h0M420.0 459.7h0M413.9 463.2h0M523.1 468.5h0M523.8 472.8h0M593.8 424.4h0M627.3 479.4h0M844.3 455.6h0M1090.0 474.6h0M1094.7 477.1h0M1237.4 452.6h0"/><path stroke="#ee8468" d="M91.4 458.7h0M96.0 484.3h0M89.3 494.7h0M92.3 493.9h0M91.1 506.8h0M89.9 510.8h0M84.3 536.1h0M204.3 455.4h0M192.5 467.0h0M204.3 468.6h0M201.9 470.7h0M208.4 470.7h0M193.6 478.6h0M195.9 481.7h0M200.8 481.3h0M237.7 399.9h0M234.5 403.6h0M236.3 418.1h0M237.8 429.3h0M302.4 486.6h0M310.3 489.0h0M308.5 490.8h0M379.1 443.6h0M379.3 451.1h0M375.2 461.7h0M377.3 461.1h0M382.9 461.7h0M410.8 449.9h0M417.0 451.6h0M558.9 461.4h0M557.8 463.0h0M560.3 467.5h0M561.7 471.2h0M593.8 435.6h0M629.8 468.7h0M736.7 440.8h0"/><path stroke="#3b4cc0" d="M92.6 330.9h0M93.6 331.0h0M91.6 335.1h0M94.3 336.1h0M92.6 346.1h0M91.2 350.2h0M95.4 354.7h0M95.3 362.8h0M88.8 383.0h0M156.3 448.3h0M162.4 457.7h0M164.5 481.8h0M173.8 482.0h0M153.2 488.1h0M159.0 488.2h0M156.6 494.1h0M164.0 496.1h0M169.0 496.5h0M155.5 499.7h0M167.7 499.6h0M170.1 501.9h0M168.8 507.6h0M166.2 510.5h0M156.6 514.5h0M162.9 519.8h0M160.5 521.8h0M169.6 523.8h0M162.5 533.9h0M194.6 485.6h0M197.6 495.3h0M200.3 497.8h0M197.4 506.7h0M202.9 515.3h0M202.7 517.4h0M202.0 529.5h0M198.8 530.8h0M202.2 551.3h0M199.2 559.0h0M200.5 566.9h0M200.1 580.2h0M228.0 498.0h0M240.4 501.2h0M239.6 503.5h0M234.8 505.4h0M241.6 505.2h0M235.9 509.4h0M234.9 529.6h0M412.6 501.1h0M415.1 503.1h0M414.8 512.2h0M460.0 469.1h0M462.7 468.6h0M437.6 470.6h0M446.2 472.0h0M458.2 481.1h0M448.3 482.7h0M449.2 486.4h0M445.6 488.5h0M450.5 489.1h0M450.8 498.1h0M522.4 406.5h0M589.6 467.7h0M582.1 469.9h0M584.2 470.2h0M591.0 470.4h0M600.9 470.0h0M600.3 475.8h0M593.2 480.1h0M598.3 479.9h0M601.3 479.8h0M591.6 482.5h0M662.5 476.9h0M667.0 485.4h0M704.3 465.0h0M707.1 465.1h0M691.6 466.5h0M694.3 467.1h0M698.5 466.1h0M690.2 468.7h0M738.9 472.8h0M735.2 476.1h0M736.5 477.9h0M853.0 469.4h0M874.2 473.9h0M992.4 476.0h0M990.7 480.8h0M1027.1 467.2h0M1027.3 468.5h0M1025.5 473.3h0M1027.1 473.2h0M1021.6 478.7h0M1023.1 485.5h0M1022.8 490.5h0M1128.3 465.4h0M1130.1 464.6h0M1129.2 466.6h0M1160.8 470.0h0M1156.2 472.7h0M1274.4 478.3h0M1304.0 469.3h0M1376.2 469.2h0M1390.1 468.9h0M1389.6 470.6h0M1380.9 472.7h0M1387.6 473.0h0M1493.2 468.0h0M1493.7 470.7h0M1585.5 471.0h0M1639.0 471.0h0"/><path stroke="#3b4cc0" d="M93.2 308.0h0M95.4 346.2h0M90.2 355.9h0M91.4 382.5h0M164.7 439.5h0M165.1 441.6h0M160.1 445.5h0M172.7 455.5h0M167.3 458.3h0M169.6 457.5h0M162.1 460.0h0M164.4 463.8h0M162.7 465.7h0M166.9 466.3h0M168.3 475.9h0M153.2 483.4h0M158.3 483.6h0M167.9 483.8h0M158.3 489.6h0M175.9 489.9h0M168.6 493.7h0M164.7 497.9h0M152.9 499.8h0M154.1 501.5h0M167.0 506.2h0M168.9 506.4h0M171.3 508.5h0M156.5 512.4h0M159.4 516.5h0M164.1 517.9h0M158.7 522.3h0M163.8 529.5h0M197.5 491.2h0M198.1 493.2h0M198.2 497.5h0M200.2 499.3h0M200.4 509.7h0M203.0 509.2h0M198.0 513.3h0M200.8 512.9h0M202.3 513.0h0M198.4 521.1h0M198.8 537.1h0M201.6 553.2h0M200.5 569.1h0M200.1 579.0h0M225.3 493.2h0M241.7 504.0h0M239.6 515.8h0M236.1 537.3h0M311.0 446.9h0M421.7 489.6h0M418.1 497.4h0M461.0 467.0h0M451.0 468.0h0M443.6 473.1h0M453.8 472.4h0M457.1 475.1h0M455.7 481.0h0M439.3 482.6h0M450.4 484.2h0M448.1 489.0h0M452.9 493.1h0M452.7 494.7h0M522.4 410.6h0M557.8 421.7h0M584.3 474.4h0M604.4 476.4h0M586.4 480.5h0M596.5 482.0h0M629.8 454.8h0M663.7 471.3h0M671.9 471.1h0M654.0 475.6h0M666.8 475.9h0M654.8 477.8h0M674.3 479.6h0M666.9 483.3h0M700.7 452.7h0M699.6 455.0h0M696.7 460.7h0M702.1 463.1h0M711.1 466.3h0M731.9 470.6h0M740.1 475.7h0M739.4 478.9h0M744.9 478.4h0M733.4 482.0h0M847.4 481.3h0M878.2 473.9h0M890.7 474.3h0M880.4 476.5h0M887.1 476.3h0M875.5 477.5h0M880.7 480.5h0M956.6 478.9h0M984.1 480.8h0M989.7 482.9h0M987.0 483.8h0M1020.7 467.3h0M1018.8 469.2h0M1016.4 470.7h0M1015.8 473.2h0M1021.7 474.9h0M1023.3 483.1h0M1164.0 468.6h0M1162.7 474.0h0M1169.4 474.9h0M1163.0 476.4h0M1166.2 484.5h0M1270.9 474.2h0M1317.1 472.1h0M1307.6 475.7h0M1312.4 475.6h0M1352.5 473.9h0M1346.5 475.1h0M1383.3 468.3h0M1388.0 470.4h0M1486.9 466.7h0M1484.8 468.1h0M1583.0 471.0h0"/><path stroke="#9ebeff" d="M90.8 418.9h0M85.9 432.5h0M162.9 381.4h0M164.1 398.1h0M167.3 425.8h0M166.0 430.6h0M237.2 473.0h0M242.5 476.2h0M240.7 479.8h0M233.2 484.1h0M228.7 487.7h0M230.2 491.6h0M379.9 479.2h0M387.8 479.0h0M383.4 481.7h0M375.3 483.0h0M414.5 467.1h0M420.1 472.9h0M407.4 476.9h0M417.8 476.8h0M414.7 479.2h0M419.5 479.8h0M449.1 444.0h0M452.0 450.3h0M445.7 454.1h0M515.9 481.9h0M555.4 465.7h0M558.3 479.0h0M555.0 481.1h0M563.5 481.4h0M558.8 483.0h0M632.8 460.5h0M636.4 467.2h0M702.1 473.1h0M702.6 482.8h0M700.1 487.2h0M801.5 472.0h0M809.6 475.5h0M943.2 468.8h0M951.3 470.7h0M1126.4 466.4h0M1121.5 468.9h0M1278.3 470.6h0M1299.1 471.2h0M1303.7 471.4h0M1488.2 476.9h0"/><path stroke="#c0d4f5" d="M90.9 361.0h0M89.3 380.8h0M96.8 380.7h0M100.1 399.0h0M97.1 400.1h0M98.8 414.0h0M97.4 423.0h0M81.1 430.4h0M102.8 432.1h0M91.9 434.0h0M98.4 446.8h0M89.6 452.9h0M86.0 462.2h0M244.3 473.7h0M239.3 475.5h0M236.2 477.4h0M308.9 466.7h0M308.0 473.5h0M378.7 467.1h0M405.9 471.7h0M526.3 476.4h0M569.3 475.5h0M566.8 479.4h0M556.3 485.6h0M954.1 460.6h0M989.4 470.0h0M1311.4 468.1h0M1406.7 469.8h0M1416.3 480.7h0"/><path stroke="#7b9ff9" d="M243.1 477.0h0M243.4 488.0h0M304.0 449.0h0M310.2 463.0h0M380.7 493.2h0M412.8 481.0h0M414.7 481.1h0M420.6 483.7h0M411.9 491.9h0M451.4 462.8h0M447.8 464.6h0M814.9 471.1h0M806.3 473.0h0M1162.5 462.3h0M1162.7 466.1h0"/><path stroke="#ee8468" d="M94.1 472.4h0M89.9 474.7h0M92.9 480.7h0M93.4 486.5h0M89.0 534.0h0M207.8 443.3h0M200.0 458.9h0M196.0 461.2h0M205.2 461.6h0M195.7 467.6h0M210.7 469.0h0M190.4 471.2h0M204.3 470.6h0M201.1 475.2h0M195.6 483.5h0M196.9 487.1h0M203.3 493.6h0M203.1 501.0h0M237.6 395.9h0M233.9 426.0h0M378.8 459.9h0M385.8 465.0h0M420.5 463.7h0M622.7 467.1h0M737.1 444.4h0M808.4 485.9h0M958.7 465.1h0M1269.7 468.0h0M1318.9 467.2h0"/><path stroke="#b40426" d="M101.4 527.0h0M101.0 538.8h0M99.2 540.6h0M102.1 542.7h0M87.1 550.7h0M87.0 556.9h0M91.8 556.1h0M90.5 574.3h0M91.0 590.8h0M91.8 606.8h0M92.5 608.4h0M93.3 612.9h0M93.1 614.9h0M92.8 630.3h0M161.9 415.9h0M200.2 385.2h0M200.3 392.7h0M200.2 413.8h0M198.3 417.1h0M199.9 426.9h0M203.0 439.4h0M200.8 443.4h0M194.1 449.5h0M236.8 381.3h0M238.0 389.0h0M236.4 403.7h0M302.8 472.6h0M309.1 482.6h0M315.4 482.8h0M314.8 485.6h0M379.2 391.9h0M378.9 409.1h0M379.4 419.8h0M416.1 436.8h0M413.0 439.8h0M521.6 490.5h0M522.5 492.6h0M665.1 434.0h0M665.2 441.9h0M843.7 467.7h0M878.4 462.4h0M1023.0 451.2h0M1023.2 457.0h0M1020.4 461.2h0M1022.2 461.2h0M1130.4 486.7h0M1201.8 426.2h0M1201.9 428.3h0M1273.5 444.1h0M1273.6 458.8h0M1309.1 443.1h0M1309.2 451.9h0"/><path stroke="#d65244" d="M96.2 499.0h0M95.3 504.5h0M87.0 510.2h0M89.7 512.1h0M89.6 526.8h0M95.4 530.5h0M92.4 534.6h0M99.6 536.6h0M104.6 536.4h0M103.8 540.8h0M95.6 542.0h0M95.3 544.0h0M84.8 546.5h0M84.1 550.3h0M96.3 556.0h0M93.1 560.1h0M100.0 564.9h0M92.5 568.9h0M96.0 568.9h0M93.3 570.7h0M95.7 584.9h0M95.9 591.0h0M92.2 602.7h0M203.2 421.6h0M195.5 432.6h0M197.1 435.5h0M199.2 435.4h0M204.3 437.4h0M195.4 440.6h0M197.5 451.1h0M209.0 457.0h0M197.5 465.4h0M198.7 469.1h0M189.7 473.1h0M205.7 473.7h0M234.3 419.2h0M236.4 423.3h0M300.6 476.5h0M318.9 479.3h0M297.9 480.4h0M310.5 481.3h0M377.6 455.5h0M701.3 494.4h0M1237.2 459.9h0"/><path stroke="#5977e3" d="M92.5 332.4h0M95.6 358.9h0M91.5 392.7h0M166.7 409.7h0M167.8 424.4h0M159.4 436.3h0M162.3 436.3h0M161.6 441.5h0M172.0 442.0h0M160.6 444.1h0M163.1 444.3h0M156.9 451.6h0M167.6 452.1h0M162.0 456.6h0M166.8 460.5h0M170.9 464.4h0M167.6 469.8h0M155.0 478.4h0M226.1 480.0h0M226.0 482.0h0M230.1 482.0h0M232.7 481.1h0M234.5 482.2h0M230.8 487.9h0M242.1 494.1h0M238.9 499.7h0M243.7 499.2h0M228.9 501.5h0M243.6 502.2h0M234.6 507.4h0M238.2 511.5h0M240.9 511.5h0M236.9 523.2h0M308.5 451.1h0M309.7 454.5h0M310.3 457.3h0M407.0 487.6h0M411.3 499.9h0M414.4 498.9h0M455.8 459.0h0M447.1 460.9h0M454.3 462.5h0M452.9 464.6h0M462.4 476.7h0M453.6 478.8h0M460.8 479.0h0M459.9 484.7h0M558.1 449.8h0M557.8 455.8h0M557.4 457.9h0M629.8 436.8h0M627.9 451.4h0M630.5 450.9h0M629.4 456.9h0M663.0 463.3h0M670.5 467.8h0M658.8 470.8h0M664.4 472.9h0M666.3 473.2h0M693.0 468.9h0M734.5 472.1h0M744.3 474.2h0M740.2 482.9h0M807.2 455.3h0M849.6 476.2h0M845.9 486.0h0M843.0 489.6h0M988.7 466.0h0M976.3 468.6h0M1026.0 465.3h0M1165.2 466.1h0M1156.5 470.4h0M1337.4 471.2h0M1380.8 470.2h0M1476.6 472.1h0"/><path stroke="#e6d3ca" d="M279.1 461.0h0M266.1 462.1h0M281.4 465.5h0"/><path stroke="#f7ac8e" d="M94.6 396.1h0M89.3 398.1h0M100.0 404.6h0M104.3 426.9h0M89.6 428.2h0M82.4 448.9h0M82.1 454.4h0M85.0 454.3h0M90.4 456.8h0M90.9 466.3h0M90.3 480.8h0M89.2 496.2h0M233.6 421.9h0M234.0 431.0h0M236.3 445.9h0M239.5 461.9h0M523.8 484.5h0M526.6 484.6h0M737.1 450.3h0M834.0 468.1h0M949.9 461.3h0M1089.1 464.5h0M1088.9 469.1h0"/><path stroke="#f2cbb7" d="M87.1 406.0h0M100.6 412.0h0M96.9 415.0h0M99.9 422.6h0M94.0 428.7h0M99.8 432.5h0M84.4 436.3h0M86.2 436.7h0M85.2 442.1h0M165.6 374.4h0M164.0 396.0h0M204.5 487.1h0M202.7 526.6h0M202.1 531.7h0M237.6 469.5h0M304.4 492.4h0M378.2 465.2h0M386.9 469.6h0M387.7 473.4h0M422.6 465.9h0M527.8 474.2h0M518.8 478.2h0M522.4 481.0h0M528.5 482.3h0M593.6 422.0h0M630.8 474.8h0M630.6 486.4h0M814.2 475.0h0M811.9 479.3h0M835.2 469.4h0M944.3 465.3h0M960.1 467.2h0M944.3 470.9h0M987.5 464.9h0M985.9 466.8h0M1094.5 451.7h0M1095.4 465.5h0M1092.8 471.0h0M1133.5 478.9h0M1127.1 480.7h0M1309.7 467.5h0M1313.5 470.0h0"/><path stroke="#dddcdc" d="M91.8 378.1h0M94.8 380.8h0M97.1 395.9h0M102.2 418.8h0M92.6 422.8h0M89.6 444.0h0M96.2 452.3h0M230.6 475.7h0M382.3 470.0h0M387.0 471.2h0M378.5 478.0h0M414.7 435.7h0M420.7 451.7h0M406.4 461.4h0M413.9 461.1h0M421.4 461.1h0M624.7 470.7h0M632.3 488.6h0M812.5 469.4h0M844.4 451.1h0M947.5 463.0h0M949.4 467.5h0M941.2 468.8h0M942.2 470.8h0M1236.6 469.7h0M1283.1 470.0h0M1513.9 470.9h0M1516.4 470.9h0M1518.8 470.9h0"/><path stroke="#dddcdc" d="M127.7 372.4h0M478.3 467.6h0M477.7 471.1h0"/><path stroke="#3b4cc0" d="M129.2 310.5h0M128.6 312.4h0M127.6 331.9h0M129.8 420.5h0M334.6 474.1h0M345.0 474.9h0M332.0 476.8h0M336.2 475.8h0M482.1 485.1h0M486.7 502.8h0M486.7 507.6h0M776.9 474.0h0M768.0 477.5h0M915.2 470.2h0M920.8 472.5h0M1053.6 471.2h0M1059.2 473.2h0M1057.6 476.3h0M1063.7 478.7h0M1059.1 482.9h0M1250.0 472.2h0M1562.1 471.1h0M1564.5 471.1h0"/><path stroke="#7b9ff9" d="M1054.7 467.2h0"/><path stroke="#9ebeff" d="M129.8 360.4h0M129.9 398.1h0M128.0 406.4h0M129.5 414.4h0M127.5 460.0h0M127.5 473.8h0M130.4 476.1h0M129.6 477.6h0M122.5 481.8h0M132.9 482.3h0M128.3 485.8h0M128.0 490.2h0M116.7 492.0h0M128.9 492.5h0M125.0 493.7h0M139.5 493.5h0M131.8 496.3h0M137.8 495.9h0M127.2 498.2h0M135.2 497.9h0M122.1 504.1h0M128.7 508.3h0M131.4 507.9h0M122.4 512.3h0M124.7 514.4h0M131.8 515.4h0M137.3 515.6h0M124.7 523.9h0M131.7 528.2h0M342.2 460.8h0M486.8 494.6h0M766.4 475.5h0M918.4 462.4h0M910.7 463.9h0M912.9 464.1h0"/><path stroke="#f2cbb7" d="M128.5 342.3h0M493.5 465.3h0M477.8 469.0h0M1451.8 467.7h0M1455.4 468.9h0"/><path stroke="#c0d4f5" d="M128.3 348.2h0M129.3 412.1h0M127.5 414.0h0M130.2 438.5h0M129.7 467.6h0M485.5 472.9h0M490.6 474.8h0M482.5 476.5h0"/><path stroke="#f7ac8e" d="M913.3 477.8h0M1451.2 469.6h0"/><path stroke="#d65244" d="M771.0 459.0h0"/><path stroke="#ee8468" d="M483.7 459.1h0M480.4 466.5h0M492.7 466.9h0"/><path stroke="#5977e3" d="M130.2 410.5h0M491.1 481.4h0M487.7 487.2h0M1056.6 462.4h0M1051.8 468.6h0M1062.2 476.6h0M1448.2 469.7h0"/><path stroke="#b40426" d="M128.7 180.2h0M128.8 192.0h0M129.0 202.0h0M128.6 205.5h0M128.8 256.2h0M128.6 257.9h0M128.3 307.9h0M127.6 314.4h0M128.9 315.7h0M127.4 352.1h0M343.3 400.8h0M343.3 412.1h0M772.8 453.5h0M772.3 457.9h0M917.7 466.4h0M1065.2 466.6h0M1452.0 459.0h0"/><path stroke="#5977e3" d="M342.1 464.1h0M1062.9 464.3h0M1055.5 470.5h0M1051.6 478.4h0"/><path stroke="#b40426" d="M128.7 213.8h0M128.7 221.7h0M128.6 223.6h0M128.7 235.8h0M129.0 241.8h0M128.6 246.0h0M129.0 262.2h0M128.6 265.9h0M129.0 272.2h0M128.9 287.8h0M343.3 426.6h0M915.6 448.4h0M917.8 460.1h0"/><path stroke="#9ebeff" d="M127.5 412.0h0M128.2 438.0h0M127.2 469.5h0M127.5 476.3h0M121.1 484.3h0M125.4 484.0h0M138.3 488.4h0M119.9 490.4h0M130.9 492.2h0M136.5 492.2h0M133.0 494.1h0M139.3 496.2h0M116.6 500.6h0M140.9 499.5h0M121.4 501.4h0M126.9 503.6h0M135.5 510.1h0M134.8 512.5h0M122.7 513.5h0M127.5 515.7h0M122.2 518.5h0M126.7 518.1h0M136.1 517.4h0M128.4 519.6h0M130.4 521.7h0M128.2 533.5h0M129.0 535.0h0M344.0 456.7h0M483.9 495.5h0M484.8 496.7h0M915.8 452.5h0M1457.6 473.9h0"/><path stroke="#f2cbb7" d="M130.2 340.0h0M486.2 453.4h0M485.7 457.6h0M487.7 456.8h0M490.1 457.4h0M479.0 462.8h0M486.0 462.8h0M488.2 462.8h0M486.9 465.2h0M777.9 469.6h0"/><path stroke="#7b9ff9" d="M777.1 477.2h0M915.2 467.0h0M1057.1 464.7h0"/><path stroke="#c0d4f5" d="M129.6 347.7h0M483.7 463.1h0M475.6 466.7h0M493.1 471.4h0M482.6 472.4h0M488.8 476.6h0M491.2 476.5h0M488.5 482.9h0M767.6 463.0h0"/><path stroke="#3b4cc0" d="M127.5 337.9h0M338.1 472.5h0M341.7 474.3h0M334.5 475.9h0M350.8 476.6h0M336.5 478.6h0M345.3 478.2h0M490.6 487.5h0M770.6 480.9h0M924.0 474.1h0M918.6 476.5h0M1064.7 471.4h0M1059.7 476.4h0M1066.6 477.0h0M1192.0 472.2h0M1242.6 472.2h0M1572.0 471.1h0"/><path stroke="#dddcdc" d="M127.9 388.5h0M491.6 465.3h0M486.8 471.3h0M1447.0 473.4h0M1453.5 476.9h0"/><path stroke="#f7ac8e" d="M129.0 318.1h0M914.3 468.8h0M1442.9 471.2h0"/><path stroke="#f2cbb7" d="M480.9 460.7h0M488.7 464.5h0M763.7 465.6h0"/><path stroke="#5977e3" d="M129.4 407.8h0M487.0 483.2h0M488.7 485.0h0M917.7 463.8h0M1063.5 468.9h0M1054.0 472.9h0M1053.0 477.1h0M1056.6 478.8h0"/><path stroke="#dddcdc" d="M481.2 463.3h0M490.4 466.8h0M761.0 469.2h0M1048.9 474.9h0M1454.2 470.9h0"/><path stroke="#c0d4f5" d="M127.9 340.5h0M491.5 459.3h0M490.4 473.3h0M492.4 473.2h0M485.6 474.8h0M779.3 468.8h0"/><path stroke="#3b4cc0" d="M129.7 349.9h0M129.8 379.9h0M127.8 401.8h0M489.1 481.0h0M485.9 484.8h0M485.2 488.6h0M487.9 499.1h0M486.7 505.3h0M772.8 483.4h0M772.4 489.0h0M916.2 480.7h0M1054.4 479.4h0M1058.9 478.7h0M1065.1 478.3h0M1194.4 472.2h0M1549.7 471.1h0M1554.6 471.1h0"/><path stroke="#f7ac8e" d="M129.3 331.5h0M128.0 374.1h0"/><path stroke="#b40426" d="M128.7 208.3h0M128.9 239.5h0M128.6 244.1h0M128.7 247.8h0M129.0 275.7h0M128.5 294.4h0M128.8 296.4h0M343.1 390.5h0M343.4 403.8h0M343.2 415.8h0M343.6 420.2h0M343.7 440.7h0M343.6 444.7h0M914.7 458.4h0"/><path stroke="#9ebeff" d="M129.7 382.2h0M129.6 392.2h0M128.3 421.4h0M130.0 422.3h0M128.1 423.6h0M129.3 426.0h0M129.5 452.0h0M130.2 457.5h0M127.2 463.4h0M128.1 466.2h0M127.8 471.4h0M137.0 484.2h0M121.6 487.7h0M126.6 487.5h0M129.3 487.6h0M133.4 487.5h0M140.7 491.8h0M118.2 493.4h0M130.4 497.5h0M126.4 500.6h0M135.5 500.1h0M129.0 502.1h0M119.9 503.6h0M134.6 506.2h0M136.4 505.4h0M118.7 507.6h0M123.8 508.2h0M139.5 508.5h0M118.9 510.3h0M133.6 510.3h0M137.5 512.5h0M122.1 519.8h0M124.4 520.4h0M123.8 521.9h0M343.6 449.9h0M916.7 454.0h0M912.7 463.0h0"/><path stroke="#7b9ff9" d="M342.3 456.4h0M775.7 477.6h0M768.7 479.9h0M1059.1 455.0h0M1062.5 467.5h0M1060.6 469.0h0"/><path stroke="#f2cbb7" d="M343.7 448.5h0M484.1 464.6h0M482.0 471.3h0M779.3 465.9h0M781.9 465.7h0M774.9 469.3h0M1450.5 467.3h0"/><path stroke="#9ebeff" d="M127.6 375.7h0M129.6 405.4h0M130.0 417.7h0M130.0 436.5h0M129.9 446.2h0M129.5 448.2h0M129.5 469.8h0M131.5 479.8h0M127.7 481.4h0M129.8 482.5h0M131.4 486.1h0M131.7 487.5h0M122.0 490.3h0M132.2 489.9h0M119.1 492.3h0M121.5 491.5h0M133.7 491.6h0M122.8 495.4h0M125.5 495.9h0M122.0 499.8h0M124.6 499.8h0M133.7 500.4h0M126.6 501.5h0M133.5 502.2h0M137.9 501.5h0M130.5 504.1h0M138.0 503.9h0M117.8 505.8h0M123.4 506.0h0M139.3 506.1h0M126.4 508.6h0M124.0 509.7h0M122.8 516.4h0M130.2 523.5h0M125.3 526.4h0M343.1 446.2h0M484.0 482.9h0M490.2 491.3h0M485.1 501.2h0M765.8 471.2h0M917.2 461.8h0M1452.0 471.0h0"/><path stroke="#5977e3" d="M127.9 454.6h0M344.4 464.4h0M482.7 487.2h0M1059.2 462.5h0M1058.7 464.6h0M1057.1 466.6h0M1062.7 470.9h0M1056.4 475.3h0M1064.1 475.3h0M1457.6 472.0h0"/><path stroke="#3b4cc0" d="M128.9 269.4h0M340.7 470.0h0M340.2 472.1h0M354.6 475.0h0M340.5 476.8h0M489.0 479.2h0M485.7 487.3h0M485.5 502.8h0M771.3 485.0h0M771.7 487.0h0M922.5 472.1h0M918.9 474.1h0M926.7 474.3h0M1056.3 468.7h0M1061.4 475.3h0M1059.2 480.9h0M1060.5 481.1h0M1058.9 483.0h0M1199.4 472.2h0M1201.9 472.2h0M1209.3 472.2h0M1214.3 472.2h0M1557.1 471.1h0"/><path stroke="#b40426" d="M128.9 173.5h0M128.6 217.9h0M128.5 280.5h0M128.4 300.4h0M129.1 313.9h0M129.4 364.4h0M343.2 402.6h0M343.2 430.0h0M1452.0 461.0h0M1451.0 465.0h0"/><path stroke="#7b9ff9" d="M342.2 458.3h0M772.0 475.0h0M771.0 479.0h0M1057.1 460.7h0M1061.5 463.0h0"/><path stroke="#dddcdc" d="M128.0 394.2h0M484.7 466.6h0M771.4 463.4h0M769.4 467.2h0M770.8 467.1h0M781.2 467.5h0M1452.4 478.3h0"/><path stroke="#c0d4f5" d="M129.3 431.9h0M127.2 436.3h0M127.8 441.5h0M769.8 465.5h0"/><path stroke="#b40426" d="M128.7 186.3h0M129.0 187.9h0M129.1 190.1h0M128.8 196.3h0M129.0 197.8h0M129.1 199.8h0M128.7 210.2h0M128.5 219.5h0M128.9 291.8h0M128.2 304.0h0M128.4 305.6h0M128.3 324.6h0M343.5 408.7h0M343.3 418.4h0M343.3 424.2h0M343.4 436.7h0M915.1 454.0h0"/><path stroke="#c0d4f5" d="M128.9 322.2h0M129.4 329.7h0M478.4 460.7h0M489.6 461.4h0M494.3 469.1h0M497.4 469.0h0M767.5 469.8h0M767.5 471.6h0"/><path stroke="#9ebeff" d="M128.0 381.8h0M127.7 384.3h0M129.7 415.8h0M127.7 440.6h0M129.6 439.8h0M130.1 442.5h0M129.8 456.4h0M130.0 459.7h0M128.1 462.4h0M129.2 480.2h0M124.9 481.5h0M119.5 486.5h0M123.8 486.4h0M133.7 485.5h0M137.5 486.0h0M117.1 490.1h0M125.4 489.7h0M135.3 489.9h0M139.1 491.6h0M130.0 494.5h0M117.7 497.9h0M128.9 499.4h0M131.2 499.9h0M139.8 504.3h0M130.0 506.2h0M130.7 510.3h0M124.4 512.1h0M127.8 512.2h0M135.2 514.2h0M120.9 515.5h0M129.5 516.3h0M133.9 515.8h0M128.9 527.7h0M126.4 530.4h0M130.3 530.3h0M127.1 532.3h0M488.5 497.5h0M763.5 469.9h0M772.6 471.2h0M913.2 466.4h0"/><path stroke="#3b4cc0" d="M129.6 305.6h0M127.5 346.4h0M127.6 357.4h0M128.0 360.5h0M127.9 368.2h0M129.8 367.6h0M129.4 369.5h0M349.0 472.9h0M332.2 474.9h0M341.3 478.5h0M352.7 478.7h0M343.1 482.1h0M484.1 481.1h0M484.7 498.5h0M773.7 479.2h0M913.7 470.6h0M907.0 472.8h0M916.3 474.9h0M918.5 478.7h0M1061.6 478.5h0M1230.2 472.2h0M1237.6 472.2h0M1569.5 471.1h0"/><path stroke="#5977e3" d="M481.2 483.1h0M491.8 483.3h0M911.8 468.8h0M1055.8 472.3h0M1059.1 474.9h0"/><path stroke="#f7ac8e" d="M769.5 461.6h0"/><path stroke="#7b9ff9" d="M773.3 474.9h0M770.0 477.7h0M776.5 479.7h0M913.9 460.1h0"/><path stroke="#ee8468" d="M487.1 453.1h0M483.0 461.5h0M498.3 464.9h0"/><path stroke="#f2cbb7" d="M487.9 454.7h0M497.6 461.3h0M493.5 462.9h0M775.3 463.2h0M761.2 467.9h0M766.8 467.0h0M773.6 467.6h0M778.7 467.5h0M773.2 469.0h0M782.5 469.1h0M784.0 469.1h0"/><path stroke="#dddcdc" d="M129.9 371.9h0M479.0 465.4h0M483.3 467.4h0M1050.6 475.0h0M1449.4 472.9h0M1452.1 475.8h0"/><path stroke="#3b4cc0" d="M127.6 343.5h0M130.3 366.6h0M129.4 373.5h0M129.6 396.0h0M127.2 397.7h0M340.3 474.1h0M347.5 474.6h0M343.2 476.5h0M354.9 476.4h0M343.0 478.0h0M348.2 478.4h0M339.7 480.2h0M342.1 481.0h0M343.3 482.6h0M483.6 491.4h0M486.6 492.7h0M921.2 468.0h0M908.7 472.6h0M918.1 472.8h0M913.7 476.7h0M911.5 478.4h0M1196.9 472.2h0M1204.4 472.2h0M1227.7 472.2h0M1235.2 472.2h0M1247.6 472.2h0M1559.6 471.1h0M1567.0 471.1h0"/><path stroke="#f2cbb7" d="M495.0 461.6h0"/><path stroke="#dddcdc" d="M127.7 363.8h0M127.2 385.9h0M484.9 460.6h0M498.8 463.3h0M488.1 467.2h0M489.6 469.4h0M489.1 470.5h0M491.2 470.9h0M496.1 471.1h0"/><path stroke="#ee8468" d="M476.5 465.4h0M1452.4 456.8h0"/><path stroke="#c0d4f5" d="M130.3 400.0h0M129.4 403.6h0M127.3 444.5h0M492.7 461.6h0M495.6 462.8h0M475.6 468.4h0M486.7 476.6h0M484.2 478.9h0M772.6 465.6h0M1455.5 473.0h0"/><path stroke="#9ebeff" d="M129.8 378.3h0M127.6 399.6h0M128.0 448.4h0M129.5 466.5h0M130.4 484.2h0M119.2 488.2h0M123.1 493.5h0M120.5 498.5h0M137.4 498.0h0M117.8 502.1h0M135.6 501.8h0M124.7 505.6h0M121.1 508.3h0M130.3 512.2h0M128.5 526.2h0M126.4 527.7h0M343.7 454.6h0M344.6 460.6h0M481.4 479.2h0M488.7 492.9h0M915.3 464.8h0"/><path stroke="#5977e3" d="M345.2 462.7h0M341.2 466.6h0M344.1 472.4h0M487.2 489.4h0M1068.7 473.3h0M1053.5 475.5h0M1066.7 474.6h0M1064.8 476.7h0M1056.8 480.6h0M1465.1 471.0h0"/><path stroke="#b40426" d="M129.0 172.2h0M128.9 177.6h0M128.9 212.4h0M129.0 254.3h0M129.0 274.3h0M128.5 315.8h0M130.2 335.8h0M129.3 358.6h0M343.2 386.3h0M343.1 438.7h0M343.7 442.1h0M772.3 455.6h0M773.5 461.6h0M769.3 462.8h0M1451.5 463.5h0"/><path stroke="#7b9ff9" d="M920.8 464.0h0M1058.5 456.8h0"/><path stroke="#c0d4f5" d="M127.5 321.6h0M127.9 328.4h0M130.2 345.4h0M129.4 352.0h0M479.3 458.5h0M496.8 466.5h0M492.7 468.6h0M487.7 472.6h0M486.8 478.7h0M1450.8 472.9h0"/><path stroke="#f2cbb7" d="M128.0 334.3h0M129.6 361.8h0M485.2 454.9h0M483.6 470.5h0M766.3 464.9h0M775.3 465.7h0M770.7 469.6h0"/><path stroke="#b40426" d="M128.5 194.1h0M128.6 228.5h0M128.8 238.4h0M128.9 250.2h0M127.9 309.5h0M128.3 320.4h0M129.2 326.3h0M130.1 338.3h0M343.7 406.9h0M343.3 422.4h0M343.2 428.8h0M768.0 465.1h0M1452.5 455.2h0"/><path stroke="#9ebeff" d="M129.5 388.1h0M129.9 393.7h0M127.6 404.5h0M127.9 415.8h0M127.3 434.4h0M129.3 450.4h0M127.6 452.1h0M129.7 463.9h0M127.1 467.4h0M127.7 477.9h0M125.7 479.4h0M140.7 490.6h0M126.8 492.6h0M127.9 496.0h0M135.0 495.4h0M131.0 502.2h0M140.1 501.4h0M120.8 506.5h0M128.0 505.6h0M132.1 505.6h0M119.4 512.0h0M127.6 514.6h0M136.7 514.2h0M133.3 518.5h0M125.8 521.6h0M127.4 523.6h0M130.8 531.8h0M766.7 473.8h0M779.4 473.5h0M916.5 468.5h0"/><path stroke="#dddcdc" d="M1063.7 472.9h0"/><path stroke="#5977e3" d="M342.7 472.7h0M482.1 481.3h0M487.9 491.1h0M915.2 462.7h0M1058.4 459.1h0M1050.7 470.3h0M1048.2 472.3h0M1447.0 471.2h0M1449.4 470.9h0"/><path stroke="#f7ac8e" d="M129.9 302.3h0M128.9 308.4h0M773.8 463.1h0M777.3 464.9h0"/><path stroke="#3b4cc0" d="M127.6 362.6h0M127.5 365.5h0M128.1 369.8h0M352.6 476.2h0M337.6 480.1h0M346.9 480.7h0M487.3 501.0h0M772.4 477.6h0M910.3 468.3h0M917.7 470.5h0M911.6 472.3h0M913.3 473.0h0M910.3 474.0h0M914.3 474.3h0M908.4 476.9h0M921.3 476.6h0M923.0 476.2h0M915.3 478.0h0M919.1 480.9h0M1066.5 471.5h0M1051.3 472.6h0M1232.7 472.2h0M1547.2 471.1h0M1552.1 471.1h0"/><path stroke="#7b9ff9" d="M916.2 460.5h0M1058.6 453.0h0M1053.9 469.4h0"/><path stroke="#ee8468" d="M486.4 449.0h0M486.4 450.4h0"/><path stroke="#f2cbb7" d="M129.6 324.2h0M487.5 460.9h0M772.0 460.9h0M776.4 466.9h0M1452.4 463.4h0"/><path stroke="#c0d4f5" d="M128.0 350.0h0M129.9 428.4h0M127.3 450.6h0M494.5 466.6h0M481.0 472.5h0M482.6 475.0h0M484.2 476.6h0M1449.9 475.0h0"/><path stroke="#3b4cc0" d="M129.3 312.5h0M346.3 471.0h0M346.0 476.5h0M348.3 476.7h0M484.1 485.0h0M490.2 489.0h0M486.3 506.9h0M775.6 474.9h0M775.3 480.8h0M915.5 472.3h0M904.6 474.5h0M907.4 474.4h0M914.1 480.1h0M915.6 481.2h0M1245.1 472.2h0"/><path stroke="#5977e3" d="M129.8 453.5h0M341.8 462.9h0M341.7 467.9h0M346.9 472.2h0M1058.6 469.1h0M1068.5 474.5h0"/><path stroke="#b40426" d="M129.0 184.3h0M129.1 282.0h0M128.5 298.5h0M129.5 328.4h0M127.8 355.9h0M343.5 396.8h0M343.2 410.8h0M343.4 414.2h0M343.2 434.0h0M773.0 455.9h0"/><path stroke="#dddcdc" d="M127.8 379.5h0M475.7 461.4h0M482.0 465.0h0M480.4 469.6h0M482.6 468.6h0M777.7 463.7h0M1462.7 471.8h0"/><path stroke="#9ebeff" d="M129.9 356.3h0M130.3 424.2h0M127.1 425.5h0M128.1 446.1h0M128.0 458.0h0M123.4 483.9h0M127.4 484.4h0M132.7 483.7h0M126.0 485.8h0M123.7 487.9h0M120.9 494.1h0M120.0 496.2h0M129.5 496.1h0M132.8 498.4h0M140.2 498.2h0M138.7 499.5h0M120.0 501.8h0M117.3 504.0h0M128.9 504.5h0M135.4 503.6h0M136.2 507.8h0M121.9 510.4h0M126.9 510.0h0M138.0 509.9h0M120.3 513.8h0M124.6 518.5h0M128.2 518.6h0M131.3 519.8h0M127.5 522.0h0M134.1 522.3h0M129.1 530.5h0M490.7 485.1h0M779.1 471.0h0M916.9 456.5h0M911.2 466.2h0M1066.1 472.3h0M1446.7 469.6h0"/><path stroke="#7b9ff9" d="M774.7 471.3h0M777.1 471.1h0M769.4 473.2h0M1060.1 458.4h0M1059.9 460.4h0"/><path stroke="#d65244" d="M773.9 456.8h0"/><path stroke="#dddcdc" d="M130.4 384.0h0M474.7 462.9h0M496.4 465.2h0M479.3 471.1h0M763.6 467.4h0M1444.1 473.5h0"/><path stroke="#3b4cc0" d="M127.8 378.5h0M129.8 401.6h0M349.4 474.9h0M334.8 478.1h0M349.9 478.9h0M344.2 480.5h0M488.9 494.4h0M778.2 475.6h0M774.8 483.8h0M774.3 485.3h0M908.4 470.4h0M920.2 469.9h0M924.7 472.3h0M912.2 474.0h0M916.3 475.9h0M913.2 480.8h0M1060.3 471.3h0M1189.5 472.2h0M1206.8 472.2h0M1211.8 472.2h0M1225.2 472.2h0"/><path stroke="#f2cbb7" d="M129.6 354.6h0M485.4 468.6h0M783.6 466.9h0"/><path stroke="#b40426" d="M128.5 176.2h0M128.8 182.5h0M128.8 203.7h0M129.1 216.3h0M128.6 226.3h0M128.5 230.0h0M128.7 231.9h0M129.0 252.2h0M128.8 264.0h0M128.9 267.8h0M128.8 284.4h0M129.2 319.5h0M127.6 326.2h0M343.3 398.7h0M343.2 432.6h0"/><path stroke="#9ebeff" d="M129.3 386.2h0M130.0 389.4h0M127.1 410.0h0M127.4 427.6h0M129.6 430.5h0M130.0 443.4h0M129.8 471.5h0M130.2 473.5h0M135.5 481.9h0M122.1 485.8h0M135.6 486.3h0M136.5 487.9h0M130.3 490.0h0M138.1 490.4h0M124.0 491.8h0M128.1 494.4h0M134.7 494.3h0M118.0 495.4h0M122.6 497.5h0M124.6 497.5h0M124.0 502.0h0M133.1 503.8h0M134.0 508.5h0M128.5 509.7h0M132.3 511.5h0M130.7 518.6h0M126.0 520.3h0M135.5 519.7h0M133.3 523.5h0M131.9 526.0h0M344.7 458.4h0M771.6 473.5h0M773.6 473.4h0M917.8 458.5h0M1050.4 476.8h0M1459.4 471.1h0"/><path stroke="#7b9ff9" d="M769.9 471.3h0M769.1 475.2h0M771.0 483.9h0M1061.2 464.4h0M1052.7 466.6h0M1065.8 468.5h0"/><path stroke="#5977e3" d="M127.8 392.1h0M128.0 407.4h0M129.6 433.5h0M345.6 466.2h0M344.4 468.0h0M343.6 470.9h0M491.6 478.8h0M1053.9 464.5h0M1058.1 471.2h0M1055.2 476.9h0"/><path stroke="#c0d4f5" d="M128.3 318.5h0M130.0 333.9h0M127.4 335.9h0M127.9 432.1h0M477.0 462.5h0M487.4 474.8h0M1454.3 474.8h0"/><path stroke="#f7ac8e" d="M129.3 304.3h0M129.5 375.6h0M128.2 419.7h0M772.6 451.4h0M1453.4 465.3h0M1454.2 467.6h0"/><path stroke="#ee8468" d="M486.8 458.5h0"/><path stroke="#d65244" d="M773.8 459.0h0M776.3 461.5h0"/><path stroke="#f7ac8e" d="M130.1 342.6h0M343.2 385.0h0M921.1 465.9h0M923.2 470.8h0M1453.0 469.6h0M1439.9 471.0h0M1444.3 471.6h0"/><path stroke="#9ebeff" d="M128.2 389.7h0M127.6 418.4h0M127.1 456.5h0M129.6 462.3h0M134.5 484.1h0M137.5 494.4h0M119.5 499.7h0M124.5 504.4h0M129.6 513.8h0M132.4 513.6h0M125.7 516.4h0M132.6 520.5h0M132.1 522.3h0M129.6 534.2h0M343.3 452.5h0M485.9 490.7h0M914.8 456.0h0M1061.9 472.7h0M1458.0 469.9h0"/><path stroke="#dddcdc" d="M482.6 457.2h0M1453.1 473.6h0M1451.0 477.4h0"/><path stroke="#b40426" d="M128.7 233.4h0M128.7 260.2h0M128.6 277.7h0M128.7 285.7h0M128.7 290.2h0M129.0 300.4h0M128.4 302.1h0M128.6 330.4h0M343.6 388.4h0M343.4 393.0h0M343.2 394.6h0M915.9 449.9h0M1452.2 453.6h0"/><path stroke="#3b4cc0" d="M130.2 344.2h0M337.3 474.9h0M351.8 474.1h0M338.6 476.3h0M338.6 477.9h0M348.5 479.9h0M482.3 489.1h0M483.5 493.1h0M772.9 481.1h0M773.2 488.0h0M918.7 468.8h0M910.5 470.5h0M921.4 474.2h0M911.2 476.5h0M920.5 478.5h0M1240.1 472.2h0"/><path stroke="#ee8468" d="M491.4 463.2h0"/><path stroke="#5977e3" d="M127.5 396.0h0M127.4 430.0h0M1059.8 466.7h0"/><path stroke="#f2cbb7" d="M128.4 353.6h0M482.0 459.4h0M488.9 458.8h0M493.8 459.2h0M765.0 469.1h0"/><path stroke="#c0d4f5" d="M473.7 464.5h0M487.7 468.4h0M486.1 480.7h0M1459.5 473.2h0"/><path stroke="#3b4cc0" d="M271.9 549.0h0M272.1 564.9h0M271.6 569.2h0M1194.4 474.0h0M1225.2 474.0h0M1242.6 474.0h0M1250.0 474.0h0M1524.0 474.4h0"/><path stroke="#7b9ff9" d="M272.0 475.4h0"/><path stroke="#5977e3" d="M271.7 525.4h0"/><path stroke="#7b9ff9" d="M272.1 477.7h0M271.9 479.8h0"/><path stroke="#3b4cc0" d="M271.7 553.0h0M272.0 567.7h0M1201.9 474.0h0M1204.4 474.0h0M1214.3 474.0h0"/><path stroke="#5977e3" d="M271.7 503.3h0M1523.5 481.0h0"/><path stroke="#3b4cc0" d="M272.1 531.8h0M271.6 537.5h0M1523.6 476.4h0"/><path stroke="#5977e3" d="M271.8 501.0h0M271.9 507.9h0M271.7 513.7h0"/><path stroke="#7b9ff9" d="M272.0 491.9h0"/><path stroke="#5977e3" d="M272.1 488.9h0M271.6 521.4h0M1559.4 470.7h0"/><path stroke="#3b4cc0" d="M271.7 535.1h0M271.8 541.9h0M271.8 543.1h0M272.1 571.9h0M1189.5 474.0h0"/><path stroke="#5977e3" d="M271.9 492.9h0M1523.5 465.0h0M1523.8 469.3h0M1523.6 470.8h0M1559.9 467.2h0"/><path stroke="#7b9ff9" d="M271.8 481.0h0"/><path stroke="#3b4cc0" d="M272.1 529.4h0M271.8 547.8h0M271.7 557.7h0M1235.2 474.0h0"/><path stroke="#5977e3" d="M271.6 483.1h0M1523.9 467.4h0M1523.8 478.8h0"/><path stroke="#3b4cc0" d="M1206.8 474.0h0M1211.8 474.0h0M1240.1 474.0h0"/><path stroke="#5977e3" d="M272.0 487.4h0M272.0 495.2h0M271.7 510.8h0M1559.8 469.7h0"/><path stroke="#3b4cc0" d="M272.0 559.8h0M272.1 571.1h0M1523.7 483.1h0"/><path stroke="#3b4cc0" d="M271.8 509.1h0M272.1 551.9h0M272.1 561.2h0M1199.4 474.0h0M1209.3 474.0h0M1237.6 474.0h0M1245.1 474.0h0M1247.6 474.0h0M1524.1 473.3h0M1524.1 484.6h0"/><path stroke="#7b9ff9" d="M271.6 485.5h0"/><path stroke="#5977e3" d="M271.6 505.9h0"/><path stroke="#3b4cc0" d="M271.7 523.9h0M272.0 539.0h0M271.7 545.2h0M271.8 563.1h0M1196.9 474.0h0M1232.7 474.0h0"/><path stroke="#5977e3" d="M271.8 515.2h0M271.8 526.9h0M1559.4 471.6h0"/><path stroke="#5977e3" d="M271.9 497.4h0M271.8 499.8h0M272.1 518.8h0"/><path stroke="#3b4cc0" d="M271.6 517.0h0M272.0 533.6h0M271.7 554.9h0M1192.0 474.0h0M1227.7 474.0h0M1230.2 474.0h0"/><path stroke="#b40426" d="M128.8 155.5h0"/><path stroke="#d65244" d="M1594.3 476.5h0"/><path stroke="#b40426" d="M275.9 460.0h0"/><path stroke="#ee8468" d="M772.6 437.1h0M1452.3 444.7h0"/><path stroke="#b40426" d="M271.4 453.0h0"/><path stroke="#b40426" d="M128.8 147.4h0M486.5 434.0h0"/><path stroke="#f2cbb7" d="M1529.8 470.5h0"/><path stroke="#3b4cc0" d="M200.3 598.4h0"/><path stroke="#b40426" d="M486.5 445.8h0"/><path stroke="#f2cbb7" d="M486.5 440.0h0"/><path stroke="#7b9ff9" d="M1058.8 443.8h0"/><path stroke="#b40426" d="M343.4 370.1h0M915.7 438.6h0"/></g><path d="M1668.5 121V665" stroke="#000" stroke-width="1.2"/><path d="M1668.5 658.0H1674M1668.5 595.7H1674M1668.5 533.4H1674M1668.5 471.1H1674M1668.5 408.8H1674M1668.5 346.5H1674M1668.5 284.2H1674M1668.5 221.9H1674M1668.5 159.6H1674" stroke="#000" stroke-width="1"/><text transform="translate(1692,658.0) rotate(-90)" font-size="16.5" fill="#000" stroke="#fff" stroke-width="0.3" text-anchor="middle">−0.3</text><text transform="translate(1692,595.7) rotate(-90)" font-size="16.5" fill="#000" stroke="#fff" stroke-width="0.3" text-anchor="middle">−0.2</text><text transform="translate(1692,533.4) rotate(-90)" font-size="16.5" fill="#000" stroke="#fff" stroke-width="0.3" text-anchor="middle">−0.1</text><text transform="translate(1692,471.1) rotate(-90)" font-size="16.5" fill="#000" stroke="#fff" stroke-width="0.3" text-anchor="middle">0.0</text><text transform="translate(1692,408.8) rotate(-90)" font-size="16.5" fill="#000" stroke="#fff" stroke-width="0.3" text-anchor="middle">0.1</text><text transform="translate(1692,346.5) rotate(-90)" font-size="16.5" fill="#000" stroke="#fff" stroke-width="0.3" text-anchor="middle">0.2</text><text transform="translate(1692,284.2) rotate(-90)" font-size="16.5" fill="#000" stroke="#fff" stroke-width="0.3" text-anchor="middle">0.3</text><text transform="translate(1692,221.9) rotate(-90)" font-size="16.5" fill="#000" stroke="#fff" stroke-width="0.3" text-anchor="middle">0.4</text><text transform="translate(1692,159.6) rotate(-90)" font-size="16.5" fill="#000" stroke="#fff" stroke-width="0.3" text-anchor="middle">0.5</text><text transform="translate(1715.5,393) rotate(-90) scale(1.045,1)" font-size="19" fill="#000" stroke="#fff" stroke-width="0.3" text-anchor="middle">SHAP value (impact on model output)</text><text transform="translate(101.0,699.6) rotate(-90) scale(1.052,1)" font-size="19" fill="#333" stroke="#fff" stroke-width="0.35" text-anchor="end">secondary structure MFE <tspan font-size="16.5" dy="-1.3" letter-spacing="0.9" stroke="none" fill="#333">***</tspan></text><text transform="translate(136.8,699.6) rotate(-90) scale(1.052,1)" font-size="19" fill="#333" stroke="#fff" stroke-width="0.35" text-anchor="end">Gene expression logFC <tspan font-size="16.5" dy="-1.3" letter-spacing="0.9" stroke="none" fill="#333">***</tspan></text><text transform="translate(172.5,699.6) rotate(-90) scale(1.052,1)" font-size="19" fill="#333" stroke="#fff" stroke-width="0.35" text-anchor="end">protein centrality <tspan font-size="16.5" dy="-1.3" letter-spacing="0.9" stroke="none" fill="#333">***</tspan></text><text transform="translate(208.3,699.6) rotate(-90) scale(1.052,1)" font-size="19" fill="#333" stroke="#fff" stroke-width="0.35" text-anchor="end">tissue specificity <tspan font-size="16.5" dy="-1.3" letter-spacing="0.9" stroke="none" fill="#333">***</tspan></text><text transform="translate(244.1,699.6) rotate(-90) scale(1.052,1)" font-size="19" fill="#333" stroke="#fff" stroke-width="0.35" text-anchor="end">miRNA centrality <tspan font-size="16.5" dy="-1.3" letter-spacing="0.9" stroke="none" fill="#333">***</tspan></text><text transform="translate(279.9,699.6) rotate(-90) scale(1.052,1)" font-size="19" fill="#333" stroke="#fff" stroke-width="0.35" text-anchor="end">gene body hypermethylation in cancer <tspan font-size="16.5" dy="-1.3" letter-spacing="0.9" stroke="none" fill="#333">***</tspan></text><text transform="translate(315.6,699.6) rotate(-90) scale(1.052,1)" font-size="19" fill="#333" stroke="#fff" stroke-width="0.35" text-anchor="end">log gene length <tspan font-size="16.5" dy="-1.3" letter-spacing="0.9" stroke="none" fill="#333">*</tspan></text><text transform="translate(351.4,699.6) rotate(-90) scale(1.052,1)" font-size="19" fill="#333" stroke="#fff" stroke-width="0.35" text-anchor="end">super enhancer percentage <tspan font-size="16.5" dy="-1.3" letter-spacing="0.9" stroke="none" fill="#333">***</tspan></text><text transform="translate(387.2,699.6) rotate(-90) scale(1.052,1)" font-size="19" fill="#333" stroke="#fff" stroke-width="0.35" text-anchor="end">cnv <tspan font-size="16.5" dy="-1.3" letter-spacing="0.9" stroke="none" fill="#333">***</tspan></text><text transform="translate(422.9,699.6) rotate(-90) scale(1.052,1)" font-size="19" fill="#333" stroke="#fff" stroke-width="0.35" text-anchor="end">CADD score <tspan font-size="16.5" dy="-1.3" letter-spacing="0.9" stroke="none" fill="#333">***</tspan></text><text transform="translate(458.7,699.6) rotate(-90) scale(1.052,1)" font-size="19" fill="#333" stroke="#fff" stroke-width="0.35" text-anchor="end">H4K20me1 peak width <tspan font-size="16.5" dy="-1.3" letter-spacing="0.9" stroke="none" fill="#333">***</tspan></text><text transform="translate(494.5,699.6) rotate(-90) scale(1.052,1)" font-size="19" fill="#333" stroke="#fff" stroke-width="0.35" text-anchor="end">exon mutation odds ratio <tspan font-size="16.5" dy="-1.3" letter-spacing="0.9" stroke="none" fill="#333">***</tspan></text><text transform="translate(530.2,699.6) rotate(-90) scale(1.052,1)" font-size="19" fill="#333" stroke="#fff" stroke-width="0.35" text-anchor="end">S50 score <tspan font-size="16.5" dy="-1.3" letter-spacing="0.9" stroke="none" fill="#333">***</tspan></text><text transform="translate(566.0,699.6) rotate(-90) scale(1.052,1)" font-size="19" fill="#333" stroke="#fff" stroke-width="0.35" text-anchor="end">gene phastCons100way score <tspan font-size="16.5" dy="-1.3" letter-spacing="0.9" stroke="none" fill="#333">***</tspan></text><text transform="translate(601.8,699.6) rotate(-90) scale(1.052,1)" font-size="19" fill="#333" stroke="#fff" stroke-width="0.35" text-anchor="end">H3K79me2 peak width <tspan font-size="16.5" dy="-1.3" letter-spacing="0.9" stroke="none" fill="#333">***</tspan></text><text transform="translate(637.6,699.6) rotate(-90) scale(1.052,1)" font-size="19" fill="#333" stroke="#fff" stroke-width="0.35" text-anchor="end">gene phyloP100way score <tspan font-size="16.5" dy="-1.3" letter-spacing="0.9" stroke="none" fill="#333">***</tspan></text><text transform="translate(673.3,699.6) rotate(-90) scale(1.052,1)" font-size="19" fill="#333" stroke="#fff" stroke-width="0.35" text-anchor="end">H3K27me3 peak width <tspan font-size="16.5" dy="-1.3" letter-spacing="0.9" stroke="none" fill="#333">***</tspan></text><text transform="translate(709.1,699.6) rotate(-90) scale(1.052,1)" font-size="19" fill="#333" stroke="#fff" stroke-width="0.35" text-anchor="end">H3K4me3 peak width <tspan font-size="16.5" dy="-1.3" letter-spacing="0.9" stroke="none" fill="#333">**</tspan></text><text transform="translate(744.9,699.6) rotate(-90) scale(1.052,1)" font-size="19" fill="#333" stroke="#fff" stroke-width="0.35" text-anchor="end">LINE number per kb <tspan font-size="16.5" dy="-1.3" letter-spacing="0.9" stroke="none" fill="#333">***</tspan></text><text transform="translate(780.6,699.6) rotate(-90) scale(1.052,1)" font-size="19" fill="#333" stroke="#fff" stroke-width="0.35" text-anchor="end">k-mer <tspan font-size="16.5" dy="-1.3" letter-spacing="0.9" stroke="none" fill="#333">***</tspan></text><text transform="translate(816.4,699.6) rotate(-90) scale(1.052,1)" font-size="19" fill="#333" stroke="#fff" stroke-width="0.35" text-anchor="end">exon phyloP100way score <tspan font-size="16.5" dy="-1.3" letter-spacing="0.9" stroke="none" fill="#333">***</tspan></text><text transform="translate(852.2,699.6) rotate(-90) scale(1.052,1)" font-size="19" fill="#333" stroke="#fff" stroke-width="0.35" text-anchor="end">exon phastCons100way score <tspan font-size="16.5" dy="-1.3" letter-spacing="0.9" stroke="none" fill="#333">***</tspan></text><text transform="translate(887.9,699.6) rotate(-90) scale(1.052,1)" font-size="19" fill="#333" stroke="#fff" stroke-width="0.35" text-anchor="end">location in CDT <tspan font-size="16.5" dy="-1.3" letter-spacing="0.9" stroke="none" fill="#333">***</tspan></text><text transform="translate(923.7,699.6) rotate(-90) scale(1.052,1)" font-size="19" fill="#333" stroke="#fff" stroke-width="0.35" text-anchor="end">LTR number per kb <tspan font-size="16.5" dy="-1.3" letter-spacing="0.9" stroke="none" fill="#333">***</tspan></text><text transform="translate(959.5,699.6) rotate(-90) scale(1.052,1)" font-size="19" fill="#333" stroke="#fff" stroke-width="0.35" text-anchor="end">secondary structure paired proportion <tspan font-size="16.5" dy="-1.3" letter-spacing="0.9" stroke="none" fill="#333">***</tspan></text><text transform="translate(995.3,699.6) rotate(-90) scale(1.052,1)" font-size="19" fill="#333" stroke="#fff" stroke-width="0.35" text-anchor="end">H3K4me1 peak width <tspan font-size="16.5" dy="-1.3" letter-spacing="0.9" stroke="none" fill="#333">***</tspan></text><text transform="translate(1031.0,699.6) rotate(-90) scale(1.052,1)" font-size="19" fill="#333" stroke="#fff" stroke-width="0.35" text-anchor="end">mRNA centrality <tspan font-size="16.5" dy="-1.3" letter-spacing="0.9" stroke="none" fill="#333">***</tspan></text><text transform="translate(1066.8,699.6) rotate(-90) scale(1.052,1)" font-size="19" fill="#333" stroke="#fff" stroke-width="0.35" text-anchor="end">H3K27ac peak width <tspan font-size="16.5" dy="-1.3" letter-spacing="0.9" stroke="none" fill="#333">***</tspan></text><text transform="translate(1102.6,699.6) rotate(-90) scale(1.052,1)" font-size="19" fill="#333" stroke="#fff" stroke-width="0.35" text-anchor="end">RNAsnp score <tspan font-size="16.5" dy="-1.3" letter-spacing="0.9" stroke="none" fill="#333">***</tspan></text><text transform="translate(1138.3,699.6) rotate(-90) scale(1.052,1)" font-size="19" fill="#333" stroke="#fff" stroke-width="0.35" text-anchor="end">SINE number per kb <tspan font-size="16.5" dy="-1.3" letter-spacing="0.9" stroke="none" fill="#333">***</tspan></text><text transform="translate(1174.1,699.6) rotate(-90) scale(1.052,1)" font-size="19" fill="#333" stroke="#fff" stroke-width="0.35" text-anchor="end">H3K36me3 peak width <tspan font-size="16.5" dy="-1.3" letter-spacing="0.9" stroke="none" fill="#333">***</tspan></text><text transform="translate(1209.9,699.6) rotate(-90) scale(1.052,1)" font-size="19" fill="#333" stroke="#fff" stroke-width="0.35" text-anchor="end">screen score <tspan font-size="16.5" dy="-1.3" letter-spacing="0.9" stroke="none" fill="#333">***</tspan></text><text transform="translate(1245.6,699.6) rotate(-90) scale(1.052,1)" font-size="19" fill="#333" stroke="#fff" stroke-width="0.35" text-anchor="end">H3K9ac peak width <tspan font-size="16.5" dy="-1.3" letter-spacing="0.9" stroke="none" fill="#333">***</tspan></text><text transform="translate(1281.4,699.6) rotate(-90) scale(1.052,1)" font-size="19" fill="#333" stroke="#fff" stroke-width="0.35" text-anchor="end">secondary structure paired GC proportion <tspan font-size="16.5" dy="-1.3" letter-spacing="0.9" stroke="none" fill="#333">***</tspan></text><text transform="translate(1317.2,699.6) rotate(-90) scale(1.052,1)" font-size="19" fill="#333" stroke="#fff" stroke-width="0.35" text-anchor="end">gene GC content <tspan font-size="16.5" dy="-1.3" letter-spacing="0.9" stroke="none" fill="#333">***</tspan></text><text transform="translate(1353.0,699.6) rotate(-90) scale(1.052,1)" font-size="19" fill="#333" stroke="#fff" stroke-width="0.35" text-anchor="end">H3K4me2 peak width <tspan font-size="16.5" dy="-1.3" letter-spacing="0.9" stroke="none" fill="#333">***</tspan></text><text transform="translate(1388.7,699.6) rotate(-90) scale(1.052,1)" font-size="19" fill="#333" stroke="#fff" stroke-width="0.35" text-anchor="end">H3K9me3 peak width <tspan font-size="16.5" dy="-1.3" letter-spacing="0.9" stroke="none" fill="#333">***</tspan></text><text transform="translate(1424.5,699.6) rotate(-90) scale(1.052,1)" font-size="19" fill="#333" stroke="#fff" stroke-width="0.35" text-anchor="end">exon GC content <tspan font-size="16.5" dy="-1.3" letter-spacing="0.9" stroke="none" fill="#333">***</tspan></text><text transform="translate(1460.3,699.6) rotate(-90) scale(1.052,1)" font-size="19" fill="#333" stroke="#fff" stroke-width="0.35" text-anchor="end">secondary structure information <tspan font-size="16.5" dy="-1.3" letter-spacing="0.9" stroke="none" fill="#333">***</tspan></text><text transform="translate(1496.0,699.6) rotate(-90) scale(1.052,1)" font-size="19" fill="#333" stroke="#fff" stroke-width="0.35" text-anchor="end">H3K9me2 peak width <tspan font-size="16.5" dy="-1.3" letter-spacing="0.9" stroke="none" fill="#333">***</tspan></text><text transform="translate(1531.8,699.6) rotate(-90) scale(1.052,1)" font-size="19" fill="#333" stroke="#fff" stroke-width="0.35" text-anchor="end">promoter hypermethylation in cancer <tspan font-size="16.5" dy="-1.3" letter-spacing="0.9" stroke="none" fill="#333">***</tspan></text><text transform="translate(1567.6,699.6) rotate(-90) scale(1.052,1)" font-size="19" fill="#333" stroke="#fff" stroke-width="0.35" text-anchor="end">small protein number <tspan font-size="16.5" dy="-1.3" letter-spacing="0.9" stroke="none" fill="#333">***</tspan></text><text transform="translate(1603.3,699.6) rotate(-90) scale(1.052,1)" font-size="19" fill="#333" stroke="#fff" stroke-width="0.35" text-anchor="end">small protein length coverage <tspan font-size="16.5" dy="-1.3" letter-spacing="0.9" stroke="none" fill="#333">***</tspan></text><text transform="translate(1639.1,699.6) rotate(-90) scale(1.052,1)" font-size="19" fill="#333" stroke="#fff" stroke-width="0.35" text-anchor="end">Satellite number per kb n.s</text></svg></body></html>
